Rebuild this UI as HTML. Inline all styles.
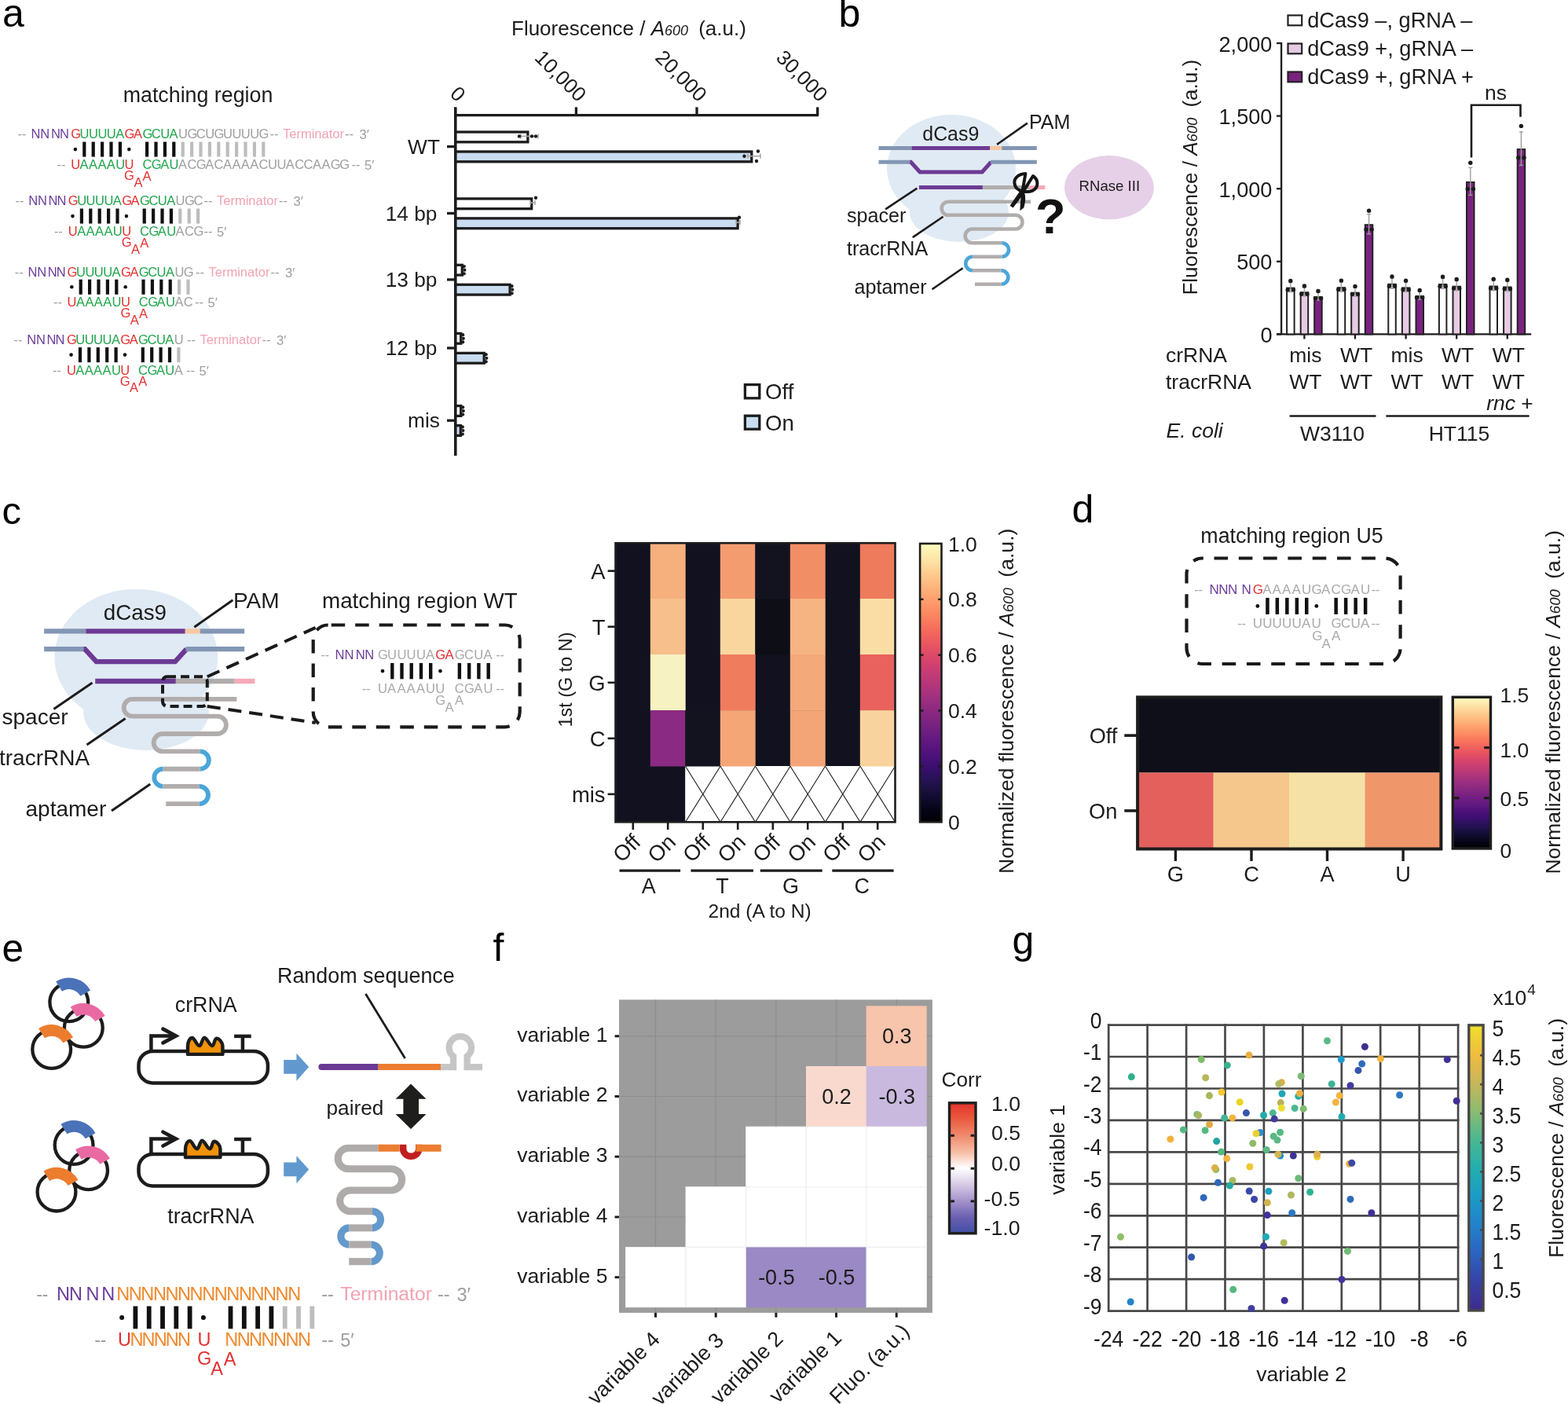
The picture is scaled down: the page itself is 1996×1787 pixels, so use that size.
<!DOCTYPE html>
<html><head><meta charset="utf-8"><title>Figure</title>
<style>html,body{margin:0;padding:0;background:#fff;} svg{display:block;}</style>
</head><body>
<svg width="1996" height="1787" viewBox="0 0 1996 1787" font-family="'Liberation Sans', Arial, Helvetica, sans-serif" fill="#1c1c1c">
<text x="3.0" y="34.0" font-size="50" fill="#000">a</text>
<text x="252.0" y="130.0" font-size="26.8" text-anchor="middle">matching region</text>
<text x="22.5 27.9" y="176.3" font-size="16.5" fill="#9e9e9e" font-family="'Liberation Sans', Arial, sans-serif">--</text>
<text x="39.6 51.3" y="176.3" font-size="16.5" fill="#6b3d9c" font-family="'Liberation Sans', Arial, sans-serif">NN</text>
<text x="64.9 75.9" y="176.3" font-size="16.5" fill="#6b3d9c" font-family="'Liberation Sans', Arial, sans-serif">NN</text>
<text x="90.2" y="176.3" font-size="16.5" fill="#e3302f" font-family="'Liberation Sans', Arial, sans-serif">G</text>
<text x="101.6 113.0 124.4 135.8 147.2" y="176.3" font-size="16.5" fill="#1fa54c" font-family="'Liberation Sans', Arial, sans-serif">UUUUA</text>
<text x="158.6 170.0" y="176.3" font-size="16.5" fill="#e3302f" font-family="'Liberation Sans', Arial, sans-serif">GA</text>
<text x="181.4 192.8 204.2 215.6" y="176.3" font-size="16.5" fill="#1fa54c" font-family="'Liberation Sans', Arial, sans-serif">GCUA</text>
<text x="227.0 238.4 249.8 261.2 272.6 284.0 295.4 306.8 318.2 329.6" y="176.3" font-size="16.5" fill="#9e9e9e" font-family="'Liberation Sans', Arial, sans-serif">UGCUGUUUUG</text>
<text x="343.5" y="176.3" font-size="16.5" fill="#9e9e9e" font-family="'Liberation Sans', Arial, sans-serif">--</text>
<text x="360.0" y="176.3" font-size="16.5" fill="#f2a3b3" font-family="'Liberation Sans', Arial, sans-serif">Terminator</text>
<text x="439.0" y="176.3" font-size="16.5" fill="#9e9e9e" font-family="'Liberation Sans', Arial, sans-serif">--</text>
<text x="457.5" y="177.3" font-size="16.5" fill="#9e9e9e" font-family="'Liberation Sans', Arial, sans-serif">3′</text>
<text x="72.6 78.0" y="215.1" font-size="16.5" fill="#9e9e9e" font-family="'Liberation Sans', Arial, sans-serif">--</text>
<text x="90.2" y="215.1" font-size="16.5" fill="#e3302f" font-family="'Liberation Sans', Arial, sans-serif">U</text>
<text x="101.6 113.0 124.4 135.8 147.2" y="215.1" font-size="16.5" fill="#1fa54c" font-family="'Liberation Sans', Arial, sans-serif">AAAAU</text>
<text x="158.6" y="215.1" font-size="16.5" fill="#e3302f" font-family="'Liberation Sans', Arial, sans-serif">U</text>
<text x="181.4 192.8 204.2 215.6" y="215.1" font-size="16.5" fill="#1fa54c" font-family="'Liberation Sans', Arial, sans-serif">CGAU</text>
<text x="227.0 238.4 249.8 261.2 272.6 284.0 295.4 306.8 318.2 329.6 341.0 352.4 363.8 375.2 386.6 398.0 409.4 420.8 432.2" y="215.1" font-size="16.5" fill="#9e9e9e" font-family="'Liberation Sans', Arial, sans-serif">ACGACAAAACUUACCAAGG</text>
<text x="447.5" y="215.1" font-size="16.5" fill="#9e9e9e" font-family="'Liberation Sans', Arial, sans-serif">--</text>
<text x="464.0" y="216.1" font-size="16.5" fill="#9e9e9e" font-family="'Liberation Sans', Arial, sans-serif">5′</text>
<text x="158.1" y="229.1" font-size="16.5" fill="#e3302f" font-family="'Liberation Sans', Arial, sans-serif">G</text>
<text x="170.4" y="237.7" font-size="16.5" fill="#e3302f" font-family="'Liberation Sans', Arial, sans-serif">A</text>
<text x="181.6" y="229.5" font-size="16.5" fill="#e3302f" font-family="'Liberation Sans', Arial, sans-serif">A</text>
<circle cx="95.9" cy="190.1" r="2.3" fill="#111"/>
<rect x="105.2" y="180.5" width="4.2" height="19.1" fill="#111"/>
<rect x="116.6" y="180.5" width="4.2" height="19.1" fill="#111"/>
<rect x="128.0" y="180.5" width="4.2" height="19.1" fill="#111"/>
<rect x="139.4" y="180.5" width="4.2" height="19.1" fill="#111"/>
<rect x="150.8" y="180.5" width="4.2" height="19.1" fill="#111"/>
<circle cx="164.3" cy="190.1" r="2.3" fill="#111"/>
<rect x="185.0" y="180.5" width="4.2" height="19.1" fill="#111"/>
<rect x="196.4" y="180.5" width="4.2" height="19.1" fill="#111"/>
<rect x="207.8" y="180.5" width="4.2" height="19.1" fill="#111"/>
<rect x="219.2" y="180.5" width="4.2" height="19.1" fill="#111"/>
<rect x="230.6" y="180.5" width="4.2" height="19.1" fill="#bdbdbd"/>
<rect x="242.0" y="180.5" width="4.2" height="19.1" fill="#bdbdbd"/>
<rect x="253.4" y="180.5" width="4.2" height="19.1" fill="#bdbdbd"/>
<rect x="264.8" y="180.5" width="4.2" height="19.1" fill="#bdbdbd"/>
<rect x="276.2" y="180.5" width="4.2" height="19.1" fill="#bdbdbd"/>
<rect x="287.6" y="180.5" width="4.2" height="19.1" fill="#bdbdbd"/>
<rect x="299.0" y="180.5" width="4.2" height="19.1" fill="#bdbdbd"/>
<rect x="310.4" y="180.5" width="4.2" height="19.1" fill="#bdbdbd"/>
<rect x="321.8" y="180.5" width="4.2" height="19.1" fill="#bdbdbd"/>
<rect x="333.2" y="180.5" width="4.2" height="19.1" fill="#bdbdbd"/>
<text x="19.5 24.9" y="261.3" font-size="16.5" fill="#9e9e9e" font-family="'Liberation Sans', Arial, sans-serif">--</text>
<text x="36.3 48.0" y="261.3" font-size="16.5" fill="#6b3d9c" font-family="'Liberation Sans', Arial, sans-serif">NN</text>
<text x="61.6 72.6" y="261.3" font-size="16.5" fill="#6b3d9c" font-family="'Liberation Sans', Arial, sans-serif">NN</text>
<text x="86.8" y="261.3" font-size="16.5" fill="#e3302f" font-family="'Liberation Sans', Arial, sans-serif">G</text>
<text x="98.2 109.6 121.0 132.4 143.8" y="261.3" font-size="16.5" fill="#1fa54c" font-family="'Liberation Sans', Arial, sans-serif">UUUUA</text>
<text x="155.2 166.6" y="261.3" font-size="16.5" fill="#e3302f" font-family="'Liberation Sans', Arial, sans-serif">GA</text>
<text x="178.0 189.4 200.8 212.2" y="261.3" font-size="16.5" fill="#1fa54c" font-family="'Liberation Sans', Arial, sans-serif">GCUA</text>
<text x="223.6 235.0 246.4" y="261.3" font-size="16.5" fill="#9e9e9e" font-family="'Liberation Sans', Arial, sans-serif">UGC</text>
<text x="259.5" y="261.3" font-size="16.5" fill="#9e9e9e" font-family="'Liberation Sans', Arial, sans-serif">--</text>
<text x="276.0" y="261.3" font-size="16.5" fill="#f2a3b3" font-family="'Liberation Sans', Arial, sans-serif">Terminator</text>
<text x="355.0" y="261.3" font-size="16.5" fill="#9e9e9e" font-family="'Liberation Sans', Arial, sans-serif">--</text>
<text x="373.5" y="262.3" font-size="16.5" fill="#9e9e9e" font-family="'Liberation Sans', Arial, sans-serif">3′</text>
<text x="68.9 74.3" y="300.1" font-size="16.5" fill="#9e9e9e" font-family="'Liberation Sans', Arial, sans-serif">--</text>
<text x="86.8" y="300.1" font-size="16.5" fill="#e3302f" font-family="'Liberation Sans', Arial, sans-serif">U</text>
<text x="98.2 109.6 121.0 132.4 143.8" y="300.1" font-size="16.5" fill="#1fa54c" font-family="'Liberation Sans', Arial, sans-serif">AAAAU</text>
<text x="155.2" y="300.1" font-size="16.5" fill="#e3302f" font-family="'Liberation Sans', Arial, sans-serif">U</text>
<text x="178.0 189.4 200.8 212.2" y="300.1" font-size="16.5" fill="#1fa54c" font-family="'Liberation Sans', Arial, sans-serif">CGAU</text>
<text x="223.6 235.0 246.4" y="300.1" font-size="16.5" fill="#9e9e9e" font-family="'Liberation Sans', Arial, sans-serif">ACG</text>
<text x="259.5" y="300.1" font-size="16.5" fill="#9e9e9e" font-family="'Liberation Sans', Arial, sans-serif">--</text>
<text x="276.0" y="301.1" font-size="16.5" fill="#9e9e9e" font-family="'Liberation Sans', Arial, sans-serif">5′</text>
<text x="154.7" y="314.1" font-size="16.5" fill="#e3302f" font-family="'Liberation Sans', Arial, sans-serif">G</text>
<text x="167.0" y="322.7" font-size="16.5" fill="#e3302f" font-family="'Liberation Sans', Arial, sans-serif">A</text>
<text x="178.2" y="314.5" font-size="16.5" fill="#e3302f" font-family="'Liberation Sans', Arial, sans-serif">A</text>
<circle cx="92.5" cy="275.1" r="2.3" fill="#111"/>
<rect x="101.8" y="265.5" width="4.2" height="19.1" fill="#111"/>
<rect x="113.2" y="265.5" width="4.2" height="19.1" fill="#111"/>
<rect x="124.6" y="265.5" width="4.2" height="19.1" fill="#111"/>
<rect x="136.0" y="265.5" width="4.2" height="19.1" fill="#111"/>
<rect x="147.4" y="265.5" width="4.2" height="19.1" fill="#111"/>
<circle cx="160.9" cy="275.1" r="2.3" fill="#111"/>
<rect x="181.6" y="265.5" width="4.2" height="19.1" fill="#111"/>
<rect x="193.0" y="265.5" width="4.2" height="19.1" fill="#111"/>
<rect x="204.4" y="265.5" width="4.2" height="19.1" fill="#111"/>
<rect x="215.8" y="265.5" width="4.2" height="19.1" fill="#111"/>
<rect x="227.2" y="265.5" width="4.2" height="19.1" fill="#bdbdbd"/>
<rect x="238.6" y="265.5" width="4.2" height="19.1" fill="#bdbdbd"/>
<rect x="250.0" y="265.5" width="4.2" height="19.1" fill="#bdbdbd"/>
<text x="18.8 24.2" y="351.5" font-size="16.5" fill="#9e9e9e" font-family="'Liberation Sans', Arial, sans-serif">--</text>
<text x="35.5 47.2" y="351.5" font-size="16.5" fill="#6b3d9c" font-family="'Liberation Sans', Arial, sans-serif">NN</text>
<text x="60.8 71.8" y="351.5" font-size="16.5" fill="#6b3d9c" font-family="'Liberation Sans', Arial, sans-serif">NN</text>
<text x="85.6" y="351.5" font-size="16.5" fill="#e3302f" font-family="'Liberation Sans', Arial, sans-serif">G</text>
<text x="97.0 108.4 119.8 131.2 142.6" y="351.5" font-size="16.5" fill="#1fa54c" font-family="'Liberation Sans', Arial, sans-serif">UUUUA</text>
<text x="154.0 165.4" y="351.5" font-size="16.5" fill="#e3302f" font-family="'Liberation Sans', Arial, sans-serif">GA</text>
<text x="176.8 188.2 199.6 211.0" y="351.5" font-size="16.5" fill="#1fa54c" font-family="'Liberation Sans', Arial, sans-serif">GCUA</text>
<text x="222.4 233.8" y="351.5" font-size="16.5" fill="#9e9e9e" font-family="'Liberation Sans', Arial, sans-serif">UG</text>
<text x="249.0" y="351.5" font-size="16.5" fill="#9e9e9e" font-family="'Liberation Sans', Arial, sans-serif">--</text>
<text x="265.5" y="351.5" font-size="16.5" fill="#f2a3b3" font-family="'Liberation Sans', Arial, sans-serif">Terminator</text>
<text x="344.5" y="351.5" font-size="16.5" fill="#9e9e9e" font-family="'Liberation Sans', Arial, sans-serif">--</text>
<text x="363.0" y="352.5" font-size="16.5" fill="#9e9e9e" font-family="'Liberation Sans', Arial, sans-serif">3′</text>
<text x="68.0 73.4" y="390.3" font-size="16.5" fill="#9e9e9e" font-family="'Liberation Sans', Arial, sans-serif">--</text>
<text x="85.6" y="390.3" font-size="16.5" fill="#e3302f" font-family="'Liberation Sans', Arial, sans-serif">U</text>
<text x="97.0 108.4 119.8 131.2 142.6" y="390.3" font-size="16.5" fill="#1fa54c" font-family="'Liberation Sans', Arial, sans-serif">AAAAU</text>
<text x="154.0" y="390.3" font-size="16.5" fill="#e3302f" font-family="'Liberation Sans', Arial, sans-serif">U</text>
<text x="176.8 188.2 199.6 211.0" y="390.3" font-size="16.5" fill="#1fa54c" font-family="'Liberation Sans', Arial, sans-serif">CGAU</text>
<text x="222.4 233.8" y="390.3" font-size="16.5" fill="#9e9e9e" font-family="'Liberation Sans', Arial, sans-serif">AC</text>
<text x="248.0" y="390.3" font-size="16.5" fill="#9e9e9e" font-family="'Liberation Sans', Arial, sans-serif">--</text>
<text x="264.5" y="391.3" font-size="16.5" fill="#9e9e9e" font-family="'Liberation Sans', Arial, sans-serif">5′</text>
<text x="153.5" y="404.3" font-size="16.5" fill="#e3302f" font-family="'Liberation Sans', Arial, sans-serif">G</text>
<text x="165.8" y="412.9" font-size="16.5" fill="#e3302f" font-family="'Liberation Sans', Arial, sans-serif">A</text>
<text x="177.0" y="404.7" font-size="16.5" fill="#e3302f" font-family="'Liberation Sans', Arial, sans-serif">A</text>
<circle cx="91.3" cy="365.2" r="2.3" fill="#111"/>
<rect x="100.6" y="355.7" width="4.2" height="19.1" fill="#111"/>
<rect x="112.0" y="355.7" width="4.2" height="19.1" fill="#111"/>
<rect x="123.4" y="355.7" width="4.2" height="19.1" fill="#111"/>
<rect x="134.8" y="355.7" width="4.2" height="19.1" fill="#111"/>
<rect x="146.2" y="355.7" width="4.2" height="19.1" fill="#111"/>
<circle cx="159.7" cy="365.2" r="2.3" fill="#111"/>
<rect x="180.4" y="355.7" width="4.2" height="19.1" fill="#111"/>
<rect x="191.8" y="355.7" width="4.2" height="19.1" fill="#111"/>
<rect x="203.2" y="355.7" width="4.2" height="19.1" fill="#111"/>
<rect x="214.6" y="355.7" width="4.2" height="19.1" fill="#111"/>
<rect x="226.0" y="355.7" width="4.2" height="19.1" fill="#bdbdbd"/>
<rect x="237.4" y="355.7" width="4.2" height="19.1" fill="#bdbdbd"/>
<text x="17.5 22.9" y="437.9" font-size="16.5" fill="#9e9e9e" font-family="'Liberation Sans', Arial, sans-serif">--</text>
<text x="34.3 46.0" y="437.9" font-size="16.5" fill="#6b3d9c" font-family="'Liberation Sans', Arial, sans-serif">NN</text>
<text x="59.6 70.6" y="437.9" font-size="16.5" fill="#6b3d9c" font-family="'Liberation Sans', Arial, sans-serif">NN</text>
<text x="84.9" y="437.9" font-size="16.5" fill="#e3302f" font-family="'Liberation Sans', Arial, sans-serif">G</text>
<text x="96.3 107.7 119.1 130.5 141.9" y="437.9" font-size="16.5" fill="#1fa54c" font-family="'Liberation Sans', Arial, sans-serif">UUUUA</text>
<text x="153.3 164.7" y="437.9" font-size="16.5" fill="#e3302f" font-family="'Liberation Sans', Arial, sans-serif">GA</text>
<text x="176.1 187.5 198.9 210.3" y="437.9" font-size="16.5" fill="#1fa54c" font-family="'Liberation Sans', Arial, sans-serif">GCUA</text>
<text x="221.7" y="437.9" font-size="16.5" fill="#9e9e9e" font-family="'Liberation Sans', Arial, sans-serif">U</text>
<text x="238.0" y="437.9" font-size="16.5" fill="#9e9e9e" font-family="'Liberation Sans', Arial, sans-serif">--</text>
<text x="254.5" y="437.9" font-size="16.5" fill="#f2a3b3" font-family="'Liberation Sans', Arial, sans-serif">Terminator</text>
<text x="333.5" y="437.9" font-size="16.5" fill="#9e9e9e" font-family="'Liberation Sans', Arial, sans-serif">--</text>
<text x="352.0" y="438.9" font-size="16.5" fill="#9e9e9e" font-family="'Liberation Sans', Arial, sans-serif">3′</text>
<text x="67.0 72.4" y="476.7" font-size="16.5" fill="#9e9e9e" font-family="'Liberation Sans', Arial, sans-serif">--</text>
<text x="84.9" y="476.7" font-size="16.5" fill="#e3302f" font-family="'Liberation Sans', Arial, sans-serif">U</text>
<text x="96.3 107.7 119.1 130.5 141.9" y="476.7" font-size="16.5" fill="#1fa54c" font-family="'Liberation Sans', Arial, sans-serif">AAAAU</text>
<text x="153.3" y="476.7" font-size="16.5" fill="#e3302f" font-family="'Liberation Sans', Arial, sans-serif">U</text>
<text x="176.1 187.5 198.9 210.3" y="476.7" font-size="16.5" fill="#1fa54c" font-family="'Liberation Sans', Arial, sans-serif">CGAU</text>
<text x="221.7" y="476.7" font-size="16.5" fill="#9e9e9e" font-family="'Liberation Sans', Arial, sans-serif">A</text>
<text x="237.0" y="476.7" font-size="16.5" fill="#9e9e9e" font-family="'Liberation Sans', Arial, sans-serif">--</text>
<text x="253.5" y="477.7" font-size="16.5" fill="#9e9e9e" font-family="'Liberation Sans', Arial, sans-serif">5′</text>
<text x="152.8" y="490.7" font-size="16.5" fill="#e3302f" font-family="'Liberation Sans', Arial, sans-serif">G</text>
<text x="165.1" y="499.3" font-size="16.5" fill="#e3302f" font-family="'Liberation Sans', Arial, sans-serif">A</text>
<text x="176.3" y="491.1" font-size="16.5" fill="#e3302f" font-family="'Liberation Sans', Arial, sans-serif">A</text>
<circle cx="90.6" cy="451.6" r="2.3" fill="#111"/>
<rect x="99.9" y="442.1" width="4.2" height="19.1" fill="#111"/>
<rect x="111.3" y="442.1" width="4.2" height="19.1" fill="#111"/>
<rect x="122.7" y="442.1" width="4.2" height="19.1" fill="#111"/>
<rect x="134.1" y="442.1" width="4.2" height="19.1" fill="#111"/>
<rect x="145.5" y="442.1" width="4.2" height="19.1" fill="#111"/>
<circle cx="159.0" cy="451.6" r="2.3" fill="#111"/>
<rect x="179.7" y="442.1" width="4.2" height="19.1" fill="#111"/>
<rect x="191.1" y="442.1" width="4.2" height="19.1" fill="#111"/>
<rect x="202.5" y="442.1" width="4.2" height="19.1" fill="#111"/>
<rect x="213.9" y="442.1" width="4.2" height="19.1" fill="#111"/>
<rect x="225.3" y="442.1" width="4.2" height="19.1" fill="#bdbdbd"/>
<line x1="579.7" y1="136.4" x2="579.7" y2="580.0" stroke="#1c1c1c" stroke-width="3.3" stroke-linecap="butt"/>
<line x1="578.1" y1="146.6" x2="1042.1" y2="146.6" stroke="#1c1c1c" stroke-width="3.3" stroke-linecap="butt"/>
<line x1="733.4" y1="136.4" x2="733.4" y2="146.6" stroke="#1c1c1c" stroke-width="3.3" stroke-linecap="butt"/>
<line x1="887.0" y1="136.4" x2="887.0" y2="146.6" stroke="#1c1c1c" stroke-width="3.3" stroke-linecap="butt"/>
<line x1="1040.7" y1="136.4" x2="1040.7" y2="146.6" stroke="#1c1c1c" stroke-width="3.3" stroke-linecap="butt"/>
<text x="581.7" y="131.0" font-size="26" text-anchor="end" transform="rotate(45 581.7 131.0)">0</text>
<text x="735.4" y="131.0" font-size="26" text-anchor="end" transform="rotate(45 735.4 131.0)">10,000</text>
<text x="889.0" y="131.0" font-size="26" text-anchor="end" transform="rotate(45 889.0 131.0)">20,000</text>
<text x="1042.7" y="131.0" font-size="26" text-anchor="end" transform="rotate(45 1042.7 131.0)">30,000</text>
<text x="651.0" y="44.5" font-size="26">Fluorescence / <tspan font-style="italic">A</tspan><tspan font-style="italic" font-size="18">600</tspan> (a.u.)</text>
<line x1="569.0" y1="186.6" x2="579.7" y2="186.6" stroke="#1c1c1c" stroke-width="3.3" stroke-linecap="butt"/>
<text x="560.0" y="195.8" font-size="26.3" text-anchor="end">WT</text>
<rect x="579.7" y="168.0" width="92.2" height="12.8" fill="#ffffff" stroke="#1c1c1c" stroke-width="3.3"/>
<rect x="579.7" y="193.0" width="377.1" height="12.8" fill="#c9dcf1" stroke="#1c1c1c" stroke-width="3.3"/>
<line x1="569.0" y1="271.5" x2="579.7" y2="271.5" stroke="#1c1c1c" stroke-width="3.3" stroke-linecap="butt"/>
<text x="556.5" y="280.7" font-size="26.3" text-anchor="end">14 bp</text>
<rect x="579.7" y="252.9" width="97.0" height="12.8" fill="#ffffff" stroke="#1c1c1c" stroke-width="3.3"/>
<rect x="579.7" y="277.9" width="359.4" height="12.8" fill="#c9dcf1" stroke="#1c1c1c" stroke-width="3.3"/>
<line x1="569.0" y1="355.9" x2="579.7" y2="355.9" stroke="#1c1c1c" stroke-width="3.3" stroke-linecap="butt"/>
<text x="556.5" y="365.1" font-size="26.3" text-anchor="end">13 bp</text>
<rect x="579.7" y="337.3" width="8.6" height="12.8" fill="#ffffff" stroke="#1c1c1c" stroke-width="3.3"/>
<rect x="579.7" y="362.3" width="69.4" height="12.8" fill="#c9dcf1" stroke="#1c1c1c" stroke-width="3.3"/>
<line x1="569.0" y1="443.0" x2="579.7" y2="443.0" stroke="#1c1c1c" stroke-width="3.3" stroke-linecap="butt"/>
<text x="556.5" y="452.2" font-size="26.3" text-anchor="end">12 bp</text>
<rect x="579.7" y="424.4" width="7.0" height="12.8" fill="#ffffff" stroke="#1c1c1c" stroke-width="3.3"/>
<rect x="579.7" y="449.4" width="36.5" height="12.8" fill="#c9dcf1" stroke="#1c1c1c" stroke-width="3.3"/>
<line x1="569.0" y1="535.2" x2="579.7" y2="535.2" stroke="#1c1c1c" stroke-width="3.3" stroke-linecap="butt"/>
<text x="560.0" y="544.4" font-size="26.3" text-anchor="end">mis</text>
<rect x="579.7" y="516.6" width="7.0" height="12.8" fill="#ffffff" stroke="#1c1c1c" stroke-width="3.3"/>
<rect x="579.7" y="541.6" width="6.6" height="12.8" fill="#c9dcf1" stroke="#1c1c1c" stroke-width="3.3"/>
<line x1="579.7" y1="136.4" x2="579.7" y2="580.0" stroke="#1c1c1c" stroke-width="3.3" stroke-linecap="butt"/>
<line x1="663.0" y1="173.4" x2="685.0" y2="173.4" stroke="#a8a8a8" stroke-width="1.6" stroke-linecap="butt"/>
<line x1="663.0" y1="170.4" x2="663.0" y2="176.4" stroke="#a8a8a8" stroke-width="1.6" stroke-linecap="butt"/>
<line x1="685.0" y1="170.4" x2="685.0" y2="176.4" stroke="#a8a8a8" stroke-width="1.6" stroke-linecap="butt"/>
<circle cx="661.0" cy="173.4" r="2.2" fill="#1c1c1c"/>
<circle cx="677.0" cy="173.4" r="2.2" fill="#1c1c1c"/>
<circle cx="682.0" cy="173.4" r="2.2" fill="#1c1c1c"/>
<line x1="952.0" y1="198.7" x2="968.0" y2="198.7" stroke="#a8a8a8" stroke-width="1.6" stroke-linecap="butt"/>
<line x1="952.0" y1="195.7" x2="952.0" y2="201.7" stroke="#a8a8a8" stroke-width="1.6" stroke-linecap="butt"/>
<line x1="968.0" y1="195.7" x2="968.0" y2="201.7" stroke="#a8a8a8" stroke-width="1.6" stroke-linecap="butt"/>
<circle cx="947.5" cy="198.7" r="2.2" fill="#1c1c1c"/>
<circle cx="965.0" cy="192.5" r="2.2" fill="#1c1c1c"/>
<circle cx="963.0" cy="205.0" r="2.2" fill="#1c1c1c"/>
<line x1="675.0" y1="258.0" x2="681.0" y2="258.0" stroke="#a8a8a8" stroke-width="1.6" stroke-linecap="butt"/>
<line x1="675.0" y1="255.0" x2="675.0" y2="261.0" stroke="#a8a8a8" stroke-width="1.6" stroke-linecap="butt"/>
<line x1="681.0" y1="255.0" x2="681.0" y2="261.0" stroke="#a8a8a8" stroke-width="1.6" stroke-linecap="butt"/>
<circle cx="682.0" cy="251.7" r="2.2" fill="#1c1c1c"/>
<line x1="937.0" y1="283.0" x2="942.0" y2="283.0" stroke="#a8a8a8" stroke-width="1.6" stroke-linecap="butt"/>
<line x1="937.0" y1="280.0" x2="937.0" y2="286.0" stroke="#a8a8a8" stroke-width="1.6" stroke-linecap="butt"/>
<line x1="942.0" y1="280.0" x2="942.0" y2="286.0" stroke="#a8a8a8" stroke-width="1.6" stroke-linecap="butt"/>
<circle cx="941.0" cy="276.8" r="2.2" fill="#1c1c1c"/>
<line x1="589.0" y1="343.7" x2="593.0" y2="343.7" stroke="#a8a8a8" stroke-width="1.6" stroke-linecap="butt"/>
<circle cx="590.8" cy="339.1" r="2.1" fill="#1c1c1c"/>
<circle cx="591.4" cy="343.7" r="2.1" fill="#1c1c1c"/>
<circle cx="590.8" cy="348.3" r="2.1" fill="#1c1c1c"/>
<line x1="649.8" y1="368.7" x2="653.8" y2="368.7" stroke="#a8a8a8" stroke-width="1.6" stroke-linecap="butt"/>
<circle cx="651.6" cy="364.1" r="2.1" fill="#1c1c1c"/>
<circle cx="652.2" cy="368.7" r="2.1" fill="#1c1c1c"/>
<circle cx="651.6" cy="373.3" r="2.1" fill="#1c1c1c"/>
<line x1="587.4" y1="430.8" x2="591.4" y2="430.8" stroke="#a8a8a8" stroke-width="1.6" stroke-linecap="butt"/>
<circle cx="589.2" cy="426.2" r="2.1" fill="#1c1c1c"/>
<circle cx="589.8" cy="430.8" r="2.1" fill="#1c1c1c"/>
<circle cx="589.2" cy="435.4" r="2.1" fill="#1c1c1c"/>
<line x1="616.9" y1="455.8" x2="620.9" y2="455.8" stroke="#a8a8a8" stroke-width="1.6" stroke-linecap="butt"/>
<circle cx="618.7" cy="451.2" r="2.1" fill="#1c1c1c"/>
<circle cx="619.3" cy="455.8" r="2.1" fill="#1c1c1c"/>
<circle cx="618.7" cy="460.4" r="2.1" fill="#1c1c1c"/>
<line x1="587.4" y1="523.0" x2="591.4" y2="523.0" stroke="#a8a8a8" stroke-width="1.6" stroke-linecap="butt"/>
<circle cx="589.2" cy="518.4" r="2.1" fill="#1c1c1c"/>
<circle cx="589.8" cy="523.0" r="2.1" fill="#1c1c1c"/>
<circle cx="589.2" cy="527.6" r="2.1" fill="#1c1c1c"/>
<line x1="587.0" y1="548.0" x2="591.0" y2="548.0" stroke="#a8a8a8" stroke-width="1.6" stroke-linecap="butt"/>
<circle cx="588.8" cy="543.4" r="2.1" fill="#1c1c1c"/>
<circle cx="589.4" cy="548.0" r="2.1" fill="#1c1c1c"/>
<circle cx="588.8" cy="552.6" r="2.1" fill="#1c1c1c"/>
<text x="974.0" y="508.4" font-size="27.6">Off</text>
<text x="974.0" y="547.5" font-size="27.6">On</text>
<rect x="948.4" y="489.6" width="18.4" height="17.2" fill="#fff" stroke="#1c1c1c" stroke-width="3.3"/>
<rect x="948.4" y="529.2" width="18.4" height="17.0" fill="#c9dcf1" stroke="#1c1c1c" stroke-width="3.3"/>
<text x="1067.5" y="34.0" font-size="50" fill="#000">b</text>
<ellipse cx="1211" cy="214.5" rx="82" ry="68.5" fill="#e0eaf4"/>
<ellipse cx="1221" cy="270" rx="63" ry="38" fill="#e0eaf4"/>
<line x1="1118.5" y1="188.4" x2="1160.5" y2="188.4" stroke="#8396b3" stroke-width="5.0" stroke-linecap="butt"/>
<line x1="1160.5" y1="188.4" x2="1260.3" y2="188.4" stroke="#6c3a94" stroke-width="5.0" stroke-linecap="butt"/>
<line x1="1260.3" y1="188.4" x2="1275.3" y2="188.4" stroke="#f8c7a3" stroke-width="5.0" stroke-linecap="butt"/>
<line x1="1275.3" y1="188.4" x2="1319.8" y2="188.4" stroke="#8396b3" stroke-width="5.0" stroke-linecap="butt"/>
<line x1="1118.5" y1="206.3" x2="1159.5" y2="206.3" stroke="#8396b3" stroke-width="5.0" stroke-linecap="butt"/>
<path d="M1158.5 206.3 L1159.5 206.3 L1171 218.9 L1250.2 218.9 L1261.6 206.3" fill="none" stroke="#6c3a94" stroke-width="5.0" stroke-linejoin="miter"/>
<line x1="1261.0" y1="206.3" x2="1319.8" y2="206.3" stroke="#8396b3" stroke-width="5.0" stroke-linecap="butt"/>
<line x1="1169.9" y1="238.6" x2="1250.9" y2="238.6" stroke="#6c3a94" stroke-width="5.0" stroke-linecap="butt"/>
<line x1="1250.9" y1="238.6" x2="1310" y2="238.6" stroke="#b1adac" stroke-width="5.0" stroke-linecap="butt"/>
<line x1="1310" y1="238.6" x2="1330.3" y2="238.6" stroke="#f4a9b7" stroke-width="5.0" stroke-linecap="butt"/>
<path d="M1312.1 256.7 L1207.2 256.7 A8.55 8.55 0 0 0 1207.2 273.8 L1292.6 273.8 A8.85 8.85 0 0 1 1292.6 291.5 L1237.5 291.5 A8.85 8.85 0 0 0 1237.5 309.2 L1275.3 309.2" fill="none" stroke="#b1adac" stroke-width="4.6"/>
<path d="M1275.3 309.2 A8.8 8.8 0 0 1 1275.3 326.8" fill="none" stroke="#4aa6d8" stroke-width="4.6"/>
<line x1="1275.3" y1="326.8" x2="1237.9" y2="326.8" stroke="#b1adac" stroke-width="4.6"/>
<path d="M1237.9 326.8 A8.7 8.7 0 0 0 1237.9 344.2" fill="none" stroke="#4aa6d8" stroke-width="4.6"/>
<line x1="1237.9" y1="344.2" x2="1274.6" y2="344.2" stroke="#b1adac" stroke-width="4.6"/>
<path d="M1274.6 344.2 A8.8 8.8 0 0 1 1274.6 361.8" fill="none" stroke="#4aa6d8" stroke-width="4.6"/>
<line x1="1274.6" y1="361.8" x2="1241" y2="361.8" stroke="#b1adac" stroke-width="4.6"/>
<line x1="1269.1" y1="183.9" x2="1307.9" y2="156.6" stroke="#1c1c1c" stroke-width="2.6" stroke-linecap="butt"/>
<line x1="1167.4" y1="239.6" x2="1127.1" y2="266.3" stroke="#1c1c1c" stroke-width="2.6" stroke-linecap="butt"/>
<line x1="1200.6" y1="275.7" x2="1161.8" y2="302.1" stroke="#1c1c1c" stroke-width="2.6" stroke-linecap="butt"/>
<line x1="1225.6" y1="341.3" x2="1186.5" y2="368.2" stroke="#1c1c1c" stroke-width="2.6" stroke-linecap="butt"/>
<text x="1174.3" y="178.8" font-size="24.9">dCas9</text>
<text x="1310.0" y="163.8" font-size="25.1">PAM</text>
<text x="1078.0" y="283.1" font-size="25.1">spacer</text>
<text x="1078.0" y="324.5" font-size="25.1">tracrRNA</text>
<text x="1087.5" y="374.2" font-size="25.1">aptamer</text>
<g fill="none" stroke="#151515" stroke-width="4.0" stroke-linejoin="round"><path d="M1305.4 221.0 C1296.5 221.5 1290.8 226.5 1291.4 233.0 C1292.0 239.0 1296.6 242.6 1301.6 243.4 Z"/><path d="M1315.0 224.0 C1322.0 228.5 1322.6 238.5 1314.5 242.6 C1310.5 244.4 1305.6 244.2 1302.6 243.6 Z"/></g>
<path d="M1299.4 241.6 L1304.0 245.6 L1289.6 264.6 L1285.6 261.8 Z" fill="#151515"/>
<path d="M1299.6 244.0 L1304.2 245.4 C1306.0 251.0 1305.0 259.0 1303.2 264.5 L1298.4 268.2 C1298.6 261.0 1299.8 252.0 1299.6 244.0 Z" fill="#151515"/>
<text x="1318.0" y="296.5" font-size="63" fill="#111" font-weight="bold">?</text>
<ellipse cx="1411.9" cy="238.7" rx="56.9" ry="40.6" fill="#e6d0e7"/>
<text x="1373.6" y="242.8" font-size="18.6">RNase III</text>
<line x1="1631.1" y1="54.0" x2="1631.1" y2="425.4" stroke="#1c1c1c" stroke-width="2.3" stroke-linecap="butt"/>
<line x1="1625.0" y1="425.4" x2="1949.2" y2="425.4" stroke="#1c1c1c" stroke-width="2.3" stroke-linecap="butt"/>
<line x1="1625.0" y1="425.4" x2="1631.1" y2="425.4" stroke="#1c1c1c" stroke-width="2.3" stroke-linecap="butt"/>
<text x="1619.5" y="436.0" font-size="27.2" text-anchor="end">0</text>
<line x1="1625.0" y1="332.8" x2="1631.1" y2="332.8" stroke="#1c1c1c" stroke-width="2.3" stroke-linecap="butt"/>
<text x="1619.5" y="343.4" font-size="27.2" text-anchor="end">500</text>
<line x1="1625.0" y1="240.2" x2="1631.1" y2="240.2" stroke="#1c1c1c" stroke-width="2.3" stroke-linecap="butt"/>
<text x="1619.5" y="250.8" font-size="27.2" text-anchor="end">1,000</text>
<line x1="1625.0" y1="147.6" x2="1631.1" y2="147.6" stroke="#1c1c1c" stroke-width="2.3" stroke-linecap="butt"/>
<text x="1619.5" y="158.2" font-size="27.2" text-anchor="end">1,500</text>
<line x1="1625.0" y1="55.0" x2="1631.1" y2="55.0" stroke="#1c1c1c" stroke-width="2.3" stroke-linecap="butt"/>
<text x="1619.5" y="65.6" font-size="27.2" text-anchor="end">2,000</text>
<text x="1523.6" y="75.9" font-size="26" text-anchor="end" transform="rotate(-90 1523.6 75.9)">Fluorescence / <tspan font-style="italic">A</tspan><tspan font-style="italic" font-size="18.5">600</tspan> (a.u.)</text>
<line x1="1660.4" y1="425.4" x2="1660.4" y2="431.5" stroke="#1c1c1c" stroke-width="2.3" stroke-linecap="butt"/>
<rect x="1638.1" y="366.6" width="9.5" height="58.8" fill="#ffffff" stroke="#222" stroke-width="2.0"/>
<rect x="1655.7" y="372.3" width="9.5" height="53.1" fill="#e6cbe3" stroke="#222" stroke-width="2.0"/>
<rect x="1673.2" y="378.1" width="9.5" height="47.3" fill="#7a2280" stroke="#222" stroke-width="2.0"/>
<line x1="1725.0" y1="425.4" x2="1725.0" y2="431.5" stroke="#1c1c1c" stroke-width="2.3" stroke-linecap="butt"/>
<rect x="1702.7" y="366.2" width="9.5" height="59.2" fill="#ffffff" stroke="#222" stroke-width="2.0"/>
<rect x="1720.2" y="372.7" width="9.5" height="52.7" fill="#e6cbe3" stroke="#222" stroke-width="2.0"/>
<rect x="1737.8" y="286.2" width="9.5" height="139.2" fill="#7a2280" stroke="#222" stroke-width="2.0"/>
<line x1="1789.6" y1="425.4" x2="1789.6" y2="431.5" stroke="#1c1c1c" stroke-width="2.3" stroke-linecap="butt"/>
<rect x="1767.3" y="361.8" width="9.5" height="63.6" fill="#ffffff" stroke="#222" stroke-width="2.0"/>
<rect x="1784.9" y="366.4" width="9.5" height="59.0" fill="#e6cbe3" stroke="#222" stroke-width="2.0"/>
<rect x="1802.5" y="377.1" width="9.5" height="48.3" fill="#7a2280" stroke="#222" stroke-width="2.0"/>
<line x1="1854.2" y1="425.4" x2="1854.2" y2="431.5" stroke="#1c1c1c" stroke-width="2.3" stroke-linecap="butt"/>
<rect x="1831.9" y="362.0" width="9.5" height="63.4" fill="#ffffff" stroke="#222" stroke-width="2.0"/>
<rect x="1849.5" y="364.7" width="9.5" height="60.7" fill="#e6cbe3" stroke="#222" stroke-width="2.0"/>
<rect x="1867.0" y="231.9" width="9.5" height="193.5" fill="#7a2280" stroke="#222" stroke-width="2.0"/>
<line x1="1918.8" y1="425.4" x2="1918.8" y2="431.5" stroke="#1c1c1c" stroke-width="2.3" stroke-linecap="butt"/>
<rect x="1896.5" y="364.5" width="9.5" height="60.9" fill="#ffffff" stroke="#222" stroke-width="2.0"/>
<rect x="1914.1" y="365.5" width="9.5" height="59.9" fill="#e6cbe3" stroke="#222" stroke-width="2.0"/>
<rect x="1931.7" y="190.1" width="9.5" height="235.3" fill="#7a2280" stroke="#222" stroke-width="2.0"/>
<line x1="1642.8" y1="359.6" x2="1642.8" y2="371.6" stroke="#9e9e9e" stroke-width="1.4" stroke-linecap="butt"/>
<line x1="1640.3" y1="359.6" x2="1645.3" y2="359.6" stroke="#9e9e9e" stroke-width="1.4" stroke-linecap="butt"/>
<line x1="1640.3" y1="371.6" x2="1645.3" y2="371.6" stroke="#9e9e9e" stroke-width="1.4" stroke-linecap="butt"/>
<circle cx="1642.8" cy="357.5" r="2.7" fill="#1c1c1c"/>
<circle cx="1639.2" cy="368.9" r="2.7" fill="#1c1c1c"/>
<circle cx="1646.4" cy="368.9" r="2.7" fill="#1c1c1c"/>
<line x1="1660.4" y1="365.9" x2="1660.4" y2="376.7" stroke="#9e9e9e" stroke-width="1.4" stroke-linecap="butt"/>
<line x1="1657.9" y1="365.9" x2="1662.9" y2="365.9" stroke="#9e9e9e" stroke-width="1.4" stroke-linecap="butt"/>
<line x1="1657.9" y1="376.7" x2="1662.9" y2="376.7" stroke="#9e9e9e" stroke-width="1.4" stroke-linecap="butt"/>
<circle cx="1660.4" cy="364.0" r="2.7" fill="#1c1c1c"/>
<circle cx="1656.8" cy="374.3" r="2.7" fill="#1c1c1c"/>
<circle cx="1664.0" cy="374.3" r="2.7" fill="#1c1c1c"/>
<line x1="1678.0" y1="372.2" x2="1678.0" y2="381.9" stroke="#9e9e9e" stroke-width="1.4" stroke-linecap="butt"/>
<line x1="1675.5" y1="372.2" x2="1680.5" y2="372.2" stroke="#9e9e9e" stroke-width="1.4" stroke-linecap="butt"/>
<line x1="1675.5" y1="381.9" x2="1680.5" y2="381.9" stroke="#9e9e9e" stroke-width="1.4" stroke-linecap="butt"/>
<circle cx="1678.0" cy="370.5" r="2.7" fill="#1c1c1c"/>
<circle cx="1674.4" cy="379.7" r="2.7" fill="#1c1c1c"/>
<circle cx="1681.6" cy="379.7" r="2.7" fill="#1c1c1c"/>
<line x1="1707.4" y1="359.2" x2="1707.4" y2="371.2" stroke="#9e9e9e" stroke-width="1.4" stroke-linecap="butt"/>
<line x1="1704.9" y1="359.2" x2="1709.9" y2="359.2" stroke="#9e9e9e" stroke-width="1.4" stroke-linecap="butt"/>
<line x1="1704.9" y1="371.2" x2="1709.9" y2="371.2" stroke="#9e9e9e" stroke-width="1.4" stroke-linecap="butt"/>
<circle cx="1707.4" cy="357.1" r="2.7" fill="#1c1c1c"/>
<circle cx="1703.8" cy="368.5" r="2.7" fill="#1c1c1c"/>
<circle cx="1711.0" cy="368.5" r="2.7" fill="#1c1c1c"/>
<line x1="1725.0" y1="366.3" x2="1725.0" y2="377.1" stroke="#9e9e9e" stroke-width="1.4" stroke-linecap="butt"/>
<line x1="1722.5" y1="366.3" x2="1727.5" y2="366.3" stroke="#9e9e9e" stroke-width="1.4" stroke-linecap="butt"/>
<line x1="1722.5" y1="377.1" x2="1727.5" y2="377.1" stroke="#9e9e9e" stroke-width="1.4" stroke-linecap="butt"/>
<circle cx="1725.0" cy="364.4" r="2.7" fill="#1c1c1c"/>
<circle cx="1721.4" cy="374.6" r="2.7" fill="#1c1c1c"/>
<circle cx="1728.6" cy="374.6" r="2.7" fill="#1c1c1c"/>
<line x1="1742.6" y1="272.6" x2="1742.6" y2="297.8" stroke="#9e9e9e" stroke-width="1.4" stroke-linecap="butt"/>
<line x1="1740.1" y1="272.6" x2="1745.1" y2="272.6" stroke="#9e9e9e" stroke-width="1.4" stroke-linecap="butt"/>
<line x1="1740.1" y1="297.8" x2="1745.1" y2="297.8" stroke="#9e9e9e" stroke-width="1.4" stroke-linecap="butt"/>
<circle cx="1742.6" cy="268.2" r="2.7" fill="#1c1c1c"/>
<circle cx="1739.0" cy="292.1" r="2.7" fill="#1c1c1c"/>
<circle cx="1746.2" cy="292.1" r="2.7" fill="#1c1c1c"/>
<line x1="1772.0" y1="354.3" x2="1772.0" y2="367.2" stroke="#9e9e9e" stroke-width="1.4" stroke-linecap="butt"/>
<line x1="1769.5" y1="354.3" x2="1774.5" y2="354.3" stroke="#9e9e9e" stroke-width="1.4" stroke-linecap="butt"/>
<line x1="1769.5" y1="367.2" x2="1774.5" y2="367.2" stroke="#9e9e9e" stroke-width="1.4" stroke-linecap="butt"/>
<circle cx="1772.0" cy="352.0" r="2.7" fill="#1c1c1c"/>
<circle cx="1768.4" cy="364.3" r="2.7" fill="#1c1c1c"/>
<circle cx="1775.6" cy="364.3" r="2.7" fill="#1c1c1c"/>
<line x1="1789.6" y1="359.4" x2="1789.6" y2="371.4" stroke="#9e9e9e" stroke-width="1.4" stroke-linecap="butt"/>
<line x1="1787.1" y1="359.4" x2="1792.1" y2="359.4" stroke="#9e9e9e" stroke-width="1.4" stroke-linecap="butt"/>
<line x1="1787.1" y1="371.4" x2="1792.1" y2="371.4" stroke="#9e9e9e" stroke-width="1.4" stroke-linecap="butt"/>
<circle cx="1789.6" cy="357.3" r="2.7" fill="#1c1c1c"/>
<circle cx="1786.0" cy="368.7" r="2.7" fill="#1c1c1c"/>
<circle cx="1793.2" cy="368.7" r="2.7" fill="#1c1c1c"/>
<line x1="1807.2" y1="371.2" x2="1807.2" y2="381.1" stroke="#9e9e9e" stroke-width="1.4" stroke-linecap="butt"/>
<line x1="1804.7" y1="371.2" x2="1809.7" y2="371.2" stroke="#9e9e9e" stroke-width="1.4" stroke-linecap="butt"/>
<line x1="1804.7" y1="381.1" x2="1809.7" y2="381.1" stroke="#9e9e9e" stroke-width="1.4" stroke-linecap="butt"/>
<circle cx="1807.2" cy="369.5" r="2.7" fill="#1c1c1c"/>
<circle cx="1803.6" cy="378.8" r="2.7" fill="#1c1c1c"/>
<circle cx="1810.8" cy="378.8" r="2.7" fill="#1c1c1c"/>
<line x1="1836.6" y1="354.5" x2="1836.6" y2="367.4" stroke="#9e9e9e" stroke-width="1.4" stroke-linecap="butt"/>
<line x1="1834.1" y1="354.5" x2="1839.1" y2="354.5" stroke="#9e9e9e" stroke-width="1.4" stroke-linecap="butt"/>
<line x1="1834.1" y1="367.4" x2="1839.1" y2="367.4" stroke="#9e9e9e" stroke-width="1.4" stroke-linecap="butt"/>
<circle cx="1836.6" cy="352.2" r="2.7" fill="#1c1c1c"/>
<circle cx="1833.0" cy="364.5" r="2.7" fill="#1c1c1c"/>
<circle cx="1840.2" cy="364.5" r="2.7" fill="#1c1c1c"/>
<line x1="1854.2" y1="357.6" x2="1854.2" y2="369.9" stroke="#9e9e9e" stroke-width="1.4" stroke-linecap="butt"/>
<line x1="1851.7" y1="357.6" x2="1856.7" y2="357.6" stroke="#9e9e9e" stroke-width="1.4" stroke-linecap="butt"/>
<line x1="1851.7" y1="369.9" x2="1856.7" y2="369.9" stroke="#9e9e9e" stroke-width="1.4" stroke-linecap="butt"/>
<circle cx="1854.2" cy="355.4" r="2.7" fill="#1c1c1c"/>
<circle cx="1850.6" cy="367.1" r="2.7" fill="#1c1c1c"/>
<circle cx="1857.8" cy="367.1" r="2.7" fill="#1c1c1c"/>
<line x1="1871.8" y1="213.4" x2="1871.8" y2="248.4" stroke="#9e9e9e" stroke-width="1.4" stroke-linecap="butt"/>
<line x1="1869.3" y1="213.4" x2="1874.3" y2="213.4" stroke="#9e9e9e" stroke-width="1.4" stroke-linecap="butt"/>
<line x1="1869.3" y1="248.4" x2="1874.3" y2="248.4" stroke="#9e9e9e" stroke-width="1.4" stroke-linecap="butt"/>
<circle cx="1871.8" cy="207.3" r="2.7" fill="#1c1c1c"/>
<circle cx="1868.2" cy="240.6" r="2.7" fill="#1c1c1c"/>
<circle cx="1875.4" cy="240.6" r="2.7" fill="#1c1c1c"/>
<line x1="1901.2" y1="357.4" x2="1901.2" y2="369.7" stroke="#9e9e9e" stroke-width="1.4" stroke-linecap="butt"/>
<line x1="1898.7" y1="357.4" x2="1903.7" y2="357.4" stroke="#9e9e9e" stroke-width="1.4" stroke-linecap="butt"/>
<line x1="1898.7" y1="369.7" x2="1903.7" y2="369.7" stroke="#9e9e9e" stroke-width="1.4" stroke-linecap="butt"/>
<circle cx="1901.2" cy="355.2" r="2.7" fill="#1c1c1c"/>
<circle cx="1897.6" cy="366.9" r="2.7" fill="#1c1c1c"/>
<circle cx="1904.8" cy="366.9" r="2.7" fill="#1c1c1c"/>
<line x1="1918.8" y1="358.4" x2="1918.8" y2="370.6" stroke="#9e9e9e" stroke-width="1.4" stroke-linecap="butt"/>
<line x1="1916.3" y1="358.4" x2="1921.3" y2="358.4" stroke="#9e9e9e" stroke-width="1.4" stroke-linecap="butt"/>
<line x1="1916.3" y1="370.6" x2="1921.3" y2="370.6" stroke="#9e9e9e" stroke-width="1.4" stroke-linecap="butt"/>
<circle cx="1918.8" cy="356.2" r="2.7" fill="#1c1c1c"/>
<circle cx="1915.2" cy="367.8" r="2.7" fill="#1c1c1c"/>
<circle cx="1922.4" cy="367.8" r="2.7" fill="#1c1c1c"/>
<line x1="1936.4" y1="167.8" x2="1936.4" y2="210.4" stroke="#9e9e9e" stroke-width="1.4" stroke-linecap="butt"/>
<line x1="1933.9" y1="167.8" x2="1938.9" y2="167.8" stroke="#9e9e9e" stroke-width="1.4" stroke-linecap="butt"/>
<line x1="1933.9" y1="210.4" x2="1938.9" y2="210.4" stroke="#9e9e9e" stroke-width="1.4" stroke-linecap="butt"/>
<circle cx="1936.4" cy="160.4" r="2.7" fill="#1c1c1c"/>
<circle cx="1932.8" cy="200.8" r="2.7" fill="#1c1c1c"/>
<circle cx="1940.0" cy="200.8" r="2.7" fill="#1c1c1c"/>
<rect x="1639.5" y="19.5" width="17.7" height="12.8" fill="#ffffff" stroke="#222" stroke-width="2.2"/>
<text x="1664.2" y="34.6" font-size="27.2">dCas9 –, gRNA –</text>
<rect x="1639.5" y="55.5" width="17.7" height="12.8" fill="#e6cbe3" stroke="#222" stroke-width="2.2"/>
<text x="1664.2" y="70.6" font-size="27.2">dCas9 +, gRNA –</text>
<rect x="1639.5" y="91.5" width="17.7" height="12.8" fill="#7a2280" stroke="#222" stroke-width="2.2"/>
<text x="1664.2" y="106.6" font-size="27.2">dCas9 +, gRNA +</text>
<path d="M1873 200.4 L1873 133.7 L1935.5 133.7 L1935.5 148.7" fill="none" stroke="#1c1c1c" stroke-width="2.6" stroke-linecap="butt" stroke-linejoin="miter"/>
<text x="1904.0" y="126.7" font-size="26.5" text-anchor="middle">ns</text>
<text x="1484.0" y="461.0" font-size="26.5">crRNA</text>
<text x="1484.0" y="495.4" font-size="26.5">tracrRNA</text>
<text x="1661.9" y="461.0" font-size="26.5" text-anchor="middle">mis</text>
<text x="1661.9" y="495.4" font-size="26.5" text-anchor="middle">WT</text>
<text x="1726.5" y="461.0" font-size="26.5" text-anchor="middle">WT</text>
<text x="1726.5" y="495.4" font-size="26.5" text-anchor="middle">WT</text>
<text x="1791.1" y="461.0" font-size="26.5" text-anchor="middle">mis</text>
<text x="1791.1" y="495.4" font-size="26.5" text-anchor="middle">WT</text>
<text x="1855.7" y="461.0" font-size="26.5" text-anchor="middle">WT</text>
<text x="1855.7" y="495.4" font-size="26.5" text-anchor="middle">WT</text>
<text x="1920.3" y="461.0" font-size="26.5" text-anchor="middle">WT</text>
<text x="1920.3" y="495.4" font-size="26.5" text-anchor="middle">WT</text>
<text x="1951.8" y="521.7" font-size="26.5" text-anchor="end"><tspan font-style="italic">rnc</tspan> +</text>
<line x1="1641.6" y1="529.5" x2="1751.5" y2="529.5" stroke="#1c1c1c" stroke-width="2.6" stroke-linecap="butt"/>
<line x1="1764.4" y1="529.5" x2="1946.6" y2="529.5" stroke="#1c1c1c" stroke-width="2.6" stroke-linecap="butt"/>
<text x="1484.5" y="556.6" font-size="26.5" font-style="italic">E. coli</text>
<text x="1695.9" y="560.5" font-size="26.5" text-anchor="middle">W3110</text>
<text x="1857.5" y="560.5" font-size="26.5" text-anchor="middle">HT115</text>
<text x="2.5" y="666.8" font-size="49" fill="#000">c</text>
<g transform="translate(-1361.04 564.70) scale(1.267)"><ellipse cx="1211" cy="214.5" rx="82" ry="68.5" fill="#e0eaf4"/><ellipse cx="1221" cy="270" rx="63" ry="38" fill="#e0eaf4"/><line x1="1118.5" y1="188.4" x2="1160.5" y2="188.4" stroke="#8396b3" stroke-width="5.0" stroke-linecap="butt"/><line x1="1160.5" y1="188.4" x2="1260.3" y2="188.4" stroke="#6c3a94" stroke-width="5.0" stroke-linecap="butt"/><line x1="1260.3" y1="188.4" x2="1275.3" y2="188.4" stroke="#f8c7a3" stroke-width="5.0" stroke-linecap="butt"/><line x1="1275.3" y1="188.4" x2="1319.8" y2="188.4" stroke="#8396b3" stroke-width="5.0" stroke-linecap="butt"/><line x1="1118.5" y1="206.3" x2="1159.5" y2="206.3" stroke="#8396b3" stroke-width="5.0" stroke-linecap="butt"/><path d="M1158.5 206.3 L1159.5 206.3 L1171 218.9 L1250.2 218.9 L1261.6 206.3" fill="none" stroke="#6c3a94" stroke-width="5.0" stroke-linejoin="miter"/><line x1="1261.0" y1="206.3" x2="1319.8" y2="206.3" stroke="#8396b3" stroke-width="5.0" stroke-linecap="butt"/><line x1="1169.9" y1="238.6" x2="1250.9" y2="238.6" stroke="#6c3a94" stroke-width="5.0" stroke-linecap="butt"/><line x1="1250.9" y1="238.6" x2="1310" y2="238.6" stroke="#b1adac" stroke-width="5.0" stroke-linecap="butt"/><line x1="1310" y1="238.6" x2="1330.3" y2="238.6" stroke="#f4a9b7" stroke-width="5.0" stroke-linecap="butt"/><path d="M1312.1 256.7 L1207.2 256.7 A8.55 8.55 0 0 0 1207.2 273.8 L1292.6 273.8 A8.85 8.85 0 0 1 1292.6 291.5 L1237.5 291.5 A8.85 8.85 0 0 0 1237.5 309.2 L1275.3 309.2" fill="none" stroke="#b1adac" stroke-width="4.6"/><path d="M1275.3 309.2 A8.8 8.8 0 0 1 1275.3 326.8" fill="none" stroke="#4aa6d8" stroke-width="4.6"/><line x1="1275.3" y1="326.8" x2="1237.9" y2="326.8" stroke="#b1adac" stroke-width="4.6"/><path d="M1237.9 326.8 A8.7 8.7 0 0 0 1237.9 344.2" fill="none" stroke="#4aa6d8" stroke-width="4.6"/><line x1="1237.9" y1="344.2" x2="1274.6" y2="344.2" stroke="#b1adac" stroke-width="4.6"/><path d="M1274.6 344.2 A8.8 8.8 0 0 1 1274.6 361.8" fill="none" stroke="#4aa6d8" stroke-width="4.6"/><line x1="1274.6" y1="361.8" x2="1241" y2="361.8" stroke="#b1adac" stroke-width="4.6"/></g>
<line x1="247.3" y1="798.2" x2="296.4" y2="763.8" stroke="#1c1c1c" stroke-width="3.0" stroke-linecap="butt"/>
<line x1="117.5" y1="869.0" x2="68.4" y2="902.4" stroke="#1c1c1c" stroke-width="3.0" stroke-linecap="butt"/>
<line x1="159.6" y1="914.6" x2="110.5" y2="948.0" stroke="#1c1c1c" stroke-width="3.0" stroke-linecap="butt"/>
<line x1="191.2" y1="998.1" x2="142.0" y2="1032.1" stroke="#1c1c1c" stroke-width="3.0" stroke-linecap="butt"/>
<text x="171.9" y="789.0" font-size="27.8" text-anchor="middle">dCas9</text>
<text x="297.0" y="774.3" font-size="28.0">PAM</text>
<text x="2.5" y="921.6" font-size="28.0">spacer</text>
<text x="-1.0" y="974.3" font-size="28.0">tracrRNA</text>
<text x="32.5" y="1039.0" font-size="28.0">aptamer</text>
<text x="410.0" y="774.3" font-size="27.8">matching region WT</text>
<rect x="207" y="861.3" width="56.8" height="37.6" rx="6" fill="none" stroke="#1a1a1a" stroke-width="4" stroke-dasharray="11 6"/>
<line x1="263.8" y1="861.3" x2="401.6" y2="798.9" stroke="#1a1a1a" stroke-width="4" stroke-linecap="butt" stroke-dasharray="17 10"/>
<line x1="263.8" y1="898.9" x2="401.6" y2="919.9" stroke="#1a1a1a" stroke-width="4" stroke-linecap="butt" stroke-dasharray="17 10"/>
<rect x="398.7" y="795.5" width="263" height="129.8" rx="19" fill="none" stroke="#1a1a1a" stroke-width="4.2" stroke-dasharray="17.5 13" stroke-dashoffset="-4"/>
<text x="408.2 413.4" y="839.0" font-size="16.6" fill="#a9a9a9" font-family="'Liberation Sans', Arial, sans-serif">--</text>
<text x="426.5 438.5" y="839.0" font-size="16.6" fill="#6b3d9c" font-family="'Liberation Sans', Arial, sans-serif">NN</text>
<text x="452.7 464.3" y="839.0" font-size="16.6" fill="#6b3d9c" font-family="'Liberation Sans', Arial, sans-serif">NN</text>
<text x="480.9 493.1 505.4 517.6 529.9 542.1" y="839.0" font-size="16.6" fill="#a9a9a9" font-family="'Liberation Sans', Arial, sans-serif">GUUUUA</text>
<text x="554.3 566.6" y="839.0" font-size="16.6" fill="#e3302f" font-family="'Liberation Sans', Arial, sans-serif">GA</text>
<text x="578.8 591.1 603.3 615.5" y="839.0" font-size="16.6" fill="#a9a9a9" font-family="'Liberation Sans', Arial, sans-serif">GCUA</text>
<text x="631.3 636.5" y="839.0" font-size="16.6" fill="#a9a9a9" font-family="'Liberation Sans', Arial, sans-serif">--</text>
<text x="460.8 466.0" y="881.5" font-size="16.6" fill="#a9a9a9" font-family="'Liberation Sans', Arial, sans-serif">--</text>
<text x="480.9 493.1 505.4 517.6 529.9 542.1 554.3" y="881.5" font-size="16.6" fill="#a9a9a9" font-family="'Liberation Sans', Arial, sans-serif">UAAAAUU</text>
<text x="578.8 591.1 603.3 615.5" y="881.5" font-size="16.6" fill="#a9a9a9" font-family="'Liberation Sans', Arial, sans-serif">CGAU</text>
<text x="631.3 636.5" y="881.5" font-size="16.6" fill="#a9a9a9" font-family="'Liberation Sans', Arial, sans-serif">--</text>
<text x="554.3" y="897.2" font-size="16.6" fill="#a9a9a9" font-family="'Liberation Sans', Arial, sans-serif">G</text>
<text x="566.5" y="905.6" font-size="16.6" fill="#a9a9a9" font-family="'Liberation Sans', Arial, sans-serif">A</text>
<text x="579.0" y="897.2" font-size="16.6" fill="#a9a9a9" font-family="'Liberation Sans', Arial, sans-serif">A</text>
<circle cx="487.0" cy="854.1" r="2.4" fill="#111"/>
<rect x="497.1" y="843.9" width="4.4" height="20.4" fill="#111"/>
<rect x="509.3" y="843.9" width="4.4" height="20.4" fill="#111"/>
<rect x="521.5" y="843.9" width="4.4" height="20.4" fill="#111"/>
<rect x="533.8" y="843.9" width="4.4" height="20.4" fill="#111"/>
<rect x="546.0" y="843.9" width="4.4" height="20.4" fill="#111"/>
<circle cx="560.5" cy="854.1" r="2.4" fill="#111"/>
<rect x="582.7" y="843.9" width="4.4" height="20.4" fill="#111"/>
<rect x="595.0" y="843.9" width="4.4" height="20.4" fill="#111"/>
<rect x="607.2" y="843.9" width="4.4" height="20.4" fill="#111"/>
<rect x="619.5" y="843.9" width="4.4" height="20.4" fill="#111"/>
<rect x="783.5" y="691.2" width="356.0" height="355.1" fill="#11111f"/>
<rect x="872.2" y="975.0" width="267.6" height="71.6" fill="#ffffff"/>
<rect x="827.8" y="691.0" width="44.9" height="71.4" fill="#f5b07e"/>
<rect x="916.8" y="691.0" width="44.9" height="71.4" fill="#f39c6f"/>
<rect x="961.3" y="691.0" width="44.9" height="71.4" fill="#131320"/>
<rect x="1005.8" y="691.0" width="44.9" height="71.4" fill="#f28e66"/>
<rect x="1094.8" y="691.0" width="44.9" height="71.4" fill="#ef7b5d"/>
<rect x="827.8" y="762.0" width="44.9" height="71.4" fill="#f6bf8b"/>
<rect x="916.8" y="762.0" width="44.9" height="71.4" fill="#f9d69e"/>
<rect x="961.3" y="762.0" width="44.9" height="71.4" fill="#0e0e17"/>
<rect x="1005.8" y="762.0" width="44.9" height="71.4" fill="#f5b482"/>
<rect x="1094.8" y="762.0" width="44.9" height="71.4" fill="#f9dda4"/>
<rect x="827.8" y="833.0" width="44.9" height="71.4" fill="#f6f2c1"/>
<rect x="916.8" y="833.0" width="44.9" height="71.4" fill="#f07c5e"/>
<rect x="1005.8" y="833.0" width="44.9" height="71.4" fill="#f4a97a"/>
<rect x="1094.8" y="833.0" width="44.9" height="71.4" fill="#e9625e"/>
<rect x="827.8" y="904.1" width="44.9" height="71.4" fill="#8b2a82"/>
<rect x="872.3" y="904.1" width="44.9" height="71.4" fill="#131320"/>
<rect x="916.8" y="904.1" width="44.9" height="71.4" fill="#f4a677"/>
<rect x="1005.8" y="904.1" width="44.9" height="71.4" fill="#f4a577"/>
<rect x="1094.8" y="904.1" width="44.9" height="71.4" fill="#f8d39d"/>
<line x1="872.5" y1="975.3" x2="917.0" y2="1046.3" stroke="#1a1a1a" stroke-width="1.1" stroke-linecap="butt"/>
<line x1="917.0" y1="975.3" x2="872.5" y2="1046.3" stroke="#1a1a1a" stroke-width="1.1" stroke-linecap="butt"/>
<line x1="917.0" y1="975.3" x2="961.5" y2="1046.3" stroke="#1a1a1a" stroke-width="1.1" stroke-linecap="butt"/>
<line x1="961.5" y1="975.3" x2="917.0" y2="1046.3" stroke="#1a1a1a" stroke-width="1.1" stroke-linecap="butt"/>
<line x1="961.5" y1="975.3" x2="1006.0" y2="1046.3" stroke="#1a1a1a" stroke-width="1.1" stroke-linecap="butt"/>
<line x1="1006.0" y1="975.3" x2="961.5" y2="1046.3" stroke="#1a1a1a" stroke-width="1.1" stroke-linecap="butt"/>
<line x1="1006.0" y1="975.3" x2="1050.5" y2="1046.3" stroke="#1a1a1a" stroke-width="1.1" stroke-linecap="butt"/>
<line x1="1050.5" y1="975.3" x2="1006.0" y2="1046.3" stroke="#1a1a1a" stroke-width="1.1" stroke-linecap="butt"/>
<line x1="1050.5" y1="975.3" x2="1095.0" y2="1046.3" stroke="#1a1a1a" stroke-width="1.1" stroke-linecap="butt"/>
<line x1="1095.0" y1="975.3" x2="1050.5" y2="1046.3" stroke="#1a1a1a" stroke-width="1.1" stroke-linecap="butt"/>
<line x1="1095.0" y1="975.3" x2="1139.5" y2="1046.3" stroke="#1a1a1a" stroke-width="1.1" stroke-linecap="butt"/>
<line x1="1139.5" y1="975.3" x2="1095.0" y2="1046.3" stroke="#1a1a1a" stroke-width="1.1" stroke-linecap="butt"/>
<rect x="783.5" y="691.2" width="356.0" height="355.1" fill="none" stroke="#1e1e1e" stroke-width="2.6"/>
<line x1="773.6" y1="726.7" x2="783.5" y2="726.7" stroke="#1c1c1c" stroke-width="2.6" stroke-linecap="butt"/>
<text x="770.5" y="736.9" font-size="27.4" text-anchor="end">A</text>
<line x1="773.6" y1="797.7" x2="783.5" y2="797.7" stroke="#1c1c1c" stroke-width="2.6" stroke-linecap="butt"/>
<text x="770.5" y="807.9" font-size="27.4" text-anchor="end">T</text>
<line x1="773.6" y1="868.8" x2="783.5" y2="868.8" stroke="#1c1c1c" stroke-width="2.6" stroke-linecap="butt"/>
<text x="770.5" y="879.0" font-size="27.4" text-anchor="end">G</text>
<line x1="773.6" y1="939.8" x2="783.5" y2="939.8" stroke="#1c1c1c" stroke-width="2.6" stroke-linecap="butt"/>
<text x="770.5" y="950.0" font-size="27.4" text-anchor="end">C</text>
<line x1="773.6" y1="1010.8" x2="783.5" y2="1010.8" stroke="#1c1c1c" stroke-width="2.6" stroke-linecap="butt"/>
<text x="770.5" y="1021.0" font-size="27.4" text-anchor="end">mis</text>
<line x1="805.8" y1="1046.3" x2="805.8" y2="1056.0" stroke="#1c1c1c" stroke-width="2.6" stroke-linecap="butt"/>
<text x="817.2" y="1073.5" font-size="27.5" text-anchor="end" transform="rotate(-45 817.2 1073.5)">Off</text>
<line x1="850.2" y1="1046.3" x2="850.2" y2="1056.0" stroke="#1c1c1c" stroke-width="2.6" stroke-linecap="butt"/>
<text x="861.8" y="1073.5" font-size="27.5" text-anchor="end" transform="rotate(-45 861.8 1073.5)">On</text>
<line x1="894.8" y1="1046.3" x2="894.8" y2="1056.0" stroke="#1c1c1c" stroke-width="2.6" stroke-linecap="butt"/>
<text x="906.2" y="1073.5" font-size="27.5" text-anchor="end" transform="rotate(-45 906.2 1073.5)">Off</text>
<line x1="939.2" y1="1046.3" x2="939.2" y2="1056.0" stroke="#1c1c1c" stroke-width="2.6" stroke-linecap="butt"/>
<text x="950.8" y="1073.5" font-size="27.5" text-anchor="end" transform="rotate(-45 950.8 1073.5)">On</text>
<line x1="983.8" y1="1046.3" x2="983.8" y2="1056.0" stroke="#1c1c1c" stroke-width="2.6" stroke-linecap="butt"/>
<text x="995.2" y="1073.5" font-size="27.5" text-anchor="end" transform="rotate(-45 995.2 1073.5)">Off</text>
<line x1="1028.2" y1="1046.3" x2="1028.2" y2="1056.0" stroke="#1c1c1c" stroke-width="2.6" stroke-linecap="butt"/>
<text x="1039.8" y="1073.5" font-size="27.5" text-anchor="end" transform="rotate(-45 1039.8 1073.5)">On</text>
<line x1="1072.8" y1="1046.3" x2="1072.8" y2="1056.0" stroke="#1c1c1c" stroke-width="2.6" stroke-linecap="butt"/>
<text x="1084.2" y="1073.5" font-size="27.5" text-anchor="end" transform="rotate(-45 1084.2 1073.5)">Off</text>
<line x1="1117.2" y1="1046.3" x2="1117.2" y2="1056.0" stroke="#1c1c1c" stroke-width="2.6" stroke-linecap="butt"/>
<text x="1128.8" y="1073.5" font-size="27.5" text-anchor="end" transform="rotate(-45 1128.8 1073.5)">On</text>
<line x1="788.5" y1="1108.2" x2="866.1" y2="1108.2" stroke="#1c1c1c" stroke-width="3.2" stroke-linecap="butt"/>
<text x="825.7" y="1137.3" font-size="27" text-anchor="middle">A</text>
<line x1="879.4" y1="1108.2" x2="958.9" y2="1108.2" stroke="#1c1c1c" stroke-width="3.2" stroke-linecap="butt"/>
<text x="919.5" y="1137.3" font-size="27" text-anchor="middle">T</text>
<line x1="967.8" y1="1108.2" x2="1046.7" y2="1108.2" stroke="#1c1c1c" stroke-width="3.2" stroke-linecap="butt"/>
<text x="1006.6" y="1137.3" font-size="27" text-anchor="middle">G</text>
<line x1="1059.3" y1="1108.2" x2="1137.6" y2="1108.2" stroke="#1c1c1c" stroke-width="3.2" stroke-linecap="butt"/>
<text x="1097.2" y="1137.3" font-size="27" text-anchor="middle">C</text>
<text x="967.1" y="1168.2" font-size="24.6" text-anchor="middle">2nd (A to N)</text>
<text x="727.9" y="865.0" font-size="23.4" text-anchor="middle" transform="rotate(-90 727.9 865.0)">1st (G to N)</text>
<defs><linearGradient id="magc" x1="0" y1="0" x2="0" y2="1"><stop offset="0.00" stop-color="#fcfdbf"/><stop offset="0.05" stop-color="#fde7a9"/><stop offset="0.10" stop-color="#fecf92"/><stop offset="0.15" stop-color="#feb77e"/><stop offset="0.20" stop-color="#fe9f6d"/><stop offset="0.25" stop-color="#fc8961"/><stop offset="0.30" stop-color="#f7705c"/><stop offset="0.35" stop-color="#ed5a5f"/><stop offset="0.40" stop-color="#de4968"/><stop offset="0.45" stop-color="#ca3e72"/><stop offset="0.50" stop-color="#b73779"/><stop offset="0.55" stop-color="#a1307e"/><stop offset="0.60" stop-color="#8c2981"/><stop offset="0.65" stop-color="#782281"/><stop offset="0.70" stop-color="#641a80"/><stop offset="0.75" stop-color="#51127c"/><stop offset="0.80" stop-color="#3b0f70"/><stop offset="0.85" stop-color="#251255"/><stop offset="0.90" stop-color="#140e36"/><stop offset="0.95" stop-color="#06051a"/><stop offset="1.00" stop-color="#000004"/></linearGradient></defs>
<rect x="1171.1" y="691.9" width="27.4" height="354.4" fill="url(#magc)" stroke="#1e1e1e" stroke-width="2.6"/>
<text x="1207.0" y="1055.9" font-size="26.5">0</text>
<line x1="1171.1" y1="975.4" x2="1175.5" y2="975.4" stroke="#1c1c1c" stroke-width="2.4" stroke-linecap="butt"/>
<line x1="1194.2" y1="975.4" x2="1198.5" y2="975.4" stroke="#1c1c1c" stroke-width="2.4" stroke-linecap="butt"/>
<text x="1207.0" y="985.0" font-size="26.5">0.2</text>
<line x1="1171.1" y1="904.5" x2="1175.5" y2="904.5" stroke="#1c1c1c" stroke-width="2.4" stroke-linecap="butt"/>
<line x1="1194.2" y1="904.5" x2="1198.5" y2="904.5" stroke="#1c1c1c" stroke-width="2.4" stroke-linecap="butt"/>
<text x="1207.0" y="914.1" font-size="26.5">0.4</text>
<line x1="1171.1" y1="833.7" x2="1175.5" y2="833.7" stroke="#1c1c1c" stroke-width="2.4" stroke-linecap="butt"/>
<line x1="1194.2" y1="833.7" x2="1198.5" y2="833.7" stroke="#1c1c1c" stroke-width="2.4" stroke-linecap="butt"/>
<text x="1207.0" y="843.3" font-size="26.5">0.6</text>
<line x1="1171.1" y1="762.8" x2="1175.5" y2="762.8" stroke="#1c1c1c" stroke-width="2.4" stroke-linecap="butt"/>
<line x1="1194.2" y1="762.8" x2="1198.5" y2="762.8" stroke="#1c1c1c" stroke-width="2.4" stroke-linecap="butt"/>
<text x="1207.0" y="772.4" font-size="26.5">0.8</text>
<text x="1207.0" y="701.5" font-size="26.5">1.0</text>
<text x="1289.7" y="672.6" font-size="26.6" text-anchor="end" transform="rotate(-90 1289.7 672.6)">Normalized fluorescence / <tspan font-style="italic">A</tspan><tspan font-style="italic" font-size="18.8">600</tspan> (a.u.)</text>
<text x="1364.5" y="665.3" font-size="50" fill="#000">d</text>
<text x="1644.5" y="690.6" font-size="26.8" text-anchor="middle">matching region U5</text>
<rect x="1510.5" y="710.5" width="272.1" height="134.5" rx="20" fill="none" stroke="#1a1a1a" stroke-width="4.2" stroke-dasharray="17.6 13.7" stroke-dashoffset="-15"/>
<text x="1520.3 1525.5" y="755.9" font-size="17.0" fill="#a9a9a9" font-family="'Liberation Sans', Arial, sans-serif">--</text>
<text x="1539.4 1551.2 1563.0" y="755.9" font-size="17.0" fill="#6b3d9c" font-family="'Liberation Sans', Arial, sans-serif">NNN</text>
<text x="1580.6" y="755.9" font-size="17.0" fill="#6b3d9c" font-family="'Liberation Sans', Arial, sans-serif">N</text>
<text x="1594.7" y="755.9" font-size="17.0" fill="#e3302f" font-family="'Liberation Sans', Arial, sans-serif">G</text>
<text x="1607.2 1619.6 1632.1 1644.6 1657.0 1669.5 1682.0 1694.5 1706.9 1719.4 1731.9" y="755.9" font-size="17.0" fill="#a9a9a9" font-family="'Liberation Sans', Arial, sans-serif">AAAAUGACGAU</text>
<text x="1745.5 1750.7" y="755.9" font-size="17.0" fill="#a9a9a9" font-family="'Liberation Sans', Arial, sans-serif">--</text>
<text x="1575.2 1580.4" y="799.2" font-size="17.0" fill="#a9a9a9" font-family="'Liberation Sans', Arial, sans-serif">--</text>
<text x="1594.7 1607.2 1619.6 1632.1 1644.6 1657.0 1669.5" y="799.2" font-size="17.0" fill="#a9a9a9" font-family="'Liberation Sans', Arial, sans-serif">UUUUUAU</text>
<text x="1694.5 1706.9 1719.4 1731.9" y="799.2" font-size="17.0" fill="#a9a9a9" font-family="'Liberation Sans', Arial, sans-serif">GCUA</text>
<text x="1745.5 1750.7" y="799.2" font-size="17.0" fill="#a9a9a9" font-family="'Liberation Sans', Arial, sans-serif">--</text>
<text x="1670.2" y="815.4" font-size="17.0" fill="#a9a9a9" font-family="'Liberation Sans', Arial, sans-serif">G</text>
<text x="1682.6" y="824.5" font-size="17.0" fill="#a9a9a9" font-family="'Liberation Sans', Arial, sans-serif">A</text>
<text x="1695.0" y="815.4" font-size="17.0" fill="#a9a9a9" font-family="'Liberation Sans', Arial, sans-serif">A</text>
<circle cx="1600.9" cy="771.4" r="2.4" fill="#111"/>
<rect x="1611.2" y="760.9" width="4.5" height="21.0" fill="#111"/>
<rect x="1623.6" y="760.9" width="4.5" height="21.0" fill="#111"/>
<rect x="1636.1" y="760.9" width="4.5" height="21.0" fill="#111"/>
<rect x="1648.6" y="760.9" width="4.5" height="21.0" fill="#111"/>
<rect x="1661.0" y="760.9" width="4.5" height="21.0" fill="#111"/>
<circle cx="1675.8" cy="771.4" r="2.4" fill="#111"/>
<rect x="1698.4" y="760.9" width="4.5" height="21.0" fill="#111"/>
<rect x="1710.9" y="760.9" width="4.5" height="21.0" fill="#111"/>
<rect x="1723.4" y="760.9" width="4.5" height="21.0" fill="#111"/>
<rect x="1735.9" y="760.9" width="4.5" height="21.0" fill="#111"/>
<rect x="1448.1" y="887.4" width="386.3" height="96.1" fill="#0f0f19"/>
<rect x="1447.9" y="983.5" width="97.0" height="97.0" fill="#e3605c"/>
<rect x="1544.5" y="983.5" width="97.0" height="97.0" fill="#f5c78d"/>
<rect x="1641.0" y="983.5" width="97.0" height="97.0" fill="#f5e1a6"/>
<rect x="1737.6" y="983.5" width="97.0" height="97.0" fill="#f0966b"/>
<rect x="1448.1" y="887.4" width="386.3" height="193.1" fill="none" stroke="#1e1e1e" stroke-width="4.0"/>
<line x1="1431.3" y1="936.1" x2="1448.1" y2="936.1" stroke="#1c1c1c" stroke-width="3.6" stroke-linecap="butt"/>
<line x1="1431.3" y1="1031.9" x2="1448.1" y2="1031.9" stroke="#1c1c1c" stroke-width="3.6" stroke-linecap="butt"/>
<text x="1422.4" y="945.7" font-size="27.2" text-anchor="end">Off</text>
<text x="1422.4" y="1041.5" font-size="27.2" text-anchor="end">On</text>
<line x1="1496.4" y1="1080.5" x2="1496.4" y2="1096.0" stroke="#1c1c1c" stroke-width="3.4" stroke-linecap="butt"/>
<text x="1496.4" y="1121.6" font-size="27.2" text-anchor="middle">G</text>
<line x1="1593.0" y1="1080.5" x2="1593.0" y2="1096.0" stroke="#1c1c1c" stroke-width="3.4" stroke-linecap="butt"/>
<text x="1593.0" y="1121.6" font-size="27.2" text-anchor="middle">C</text>
<line x1="1689.5" y1="1080.5" x2="1689.5" y2="1096.0" stroke="#1c1c1c" stroke-width="3.4" stroke-linecap="butt"/>
<text x="1689.5" y="1121.6" font-size="27.2" text-anchor="middle">A</text>
<line x1="1786.1" y1="1080.5" x2="1786.1" y2="1096.0" stroke="#1c1c1c" stroke-width="3.4" stroke-linecap="butt"/>
<text x="1786.1" y="1121.6" font-size="27.2" text-anchor="middle">U</text>
<defs><linearGradient id="magd" x1="0" y1="0" x2="0" y2="1"><stop offset="0.000" stop-color="#fcfdbf"/><stop offset="0.033" stop-color="#fceeb0"/><stop offset="0.067" stop-color="#fddea0"/><stop offset="0.100" stop-color="#fecf92"/><stop offset="0.133" stop-color="#febf84"/><stop offset="0.167" stop-color="#feb078"/><stop offset="0.200" stop-color="#fe9f6d"/><stop offset="0.233" stop-color="#fc9065"/><stop offset="0.267" stop-color="#fa7f5e"/><stop offset="0.300" stop-color="#f7705c"/><stop offset="0.333" stop-color="#f1605d"/><stop offset="0.367" stop-color="#e95462"/><stop offset="0.400" stop-color="#de4968"/><stop offset="0.433" stop-color="#d2426f"/><stop offset="0.467" stop-color="#c43c75"/><stop offset="0.500" stop-color="#b73779"/><stop offset="0.533" stop-color="#a8327d"/><stop offset="0.567" stop-color="#992d80"/><stop offset="0.600" stop-color="#8c2981"/><stop offset="0.633" stop-color="#7e2482"/><stop offset="0.667" stop-color="#721f81"/><stop offset="0.700" stop-color="#641a80"/><stop offset="0.733" stop-color="#57157e"/><stop offset="0.767" stop-color="#491078"/><stop offset="0.800" stop-color="#3b0f70"/><stop offset="0.833" stop-color="#2c115f"/><stop offset="0.867" stop-color="#20114b"/><stop offset="0.900" stop-color="#140e36"/><stop offset="0.933" stop-color="#0b0924"/><stop offset="0.967" stop-color="#030312"/><stop offset="1.000" stop-color="#000004"/></linearGradient></defs>
<rect x="1849.3" y="887.3" width="48.2" height="192.7" fill="url(#magd)" stroke="#1e1e1e" stroke-width="3.4"/>
<line x1="1851.0" y1="951.6" x2="1857.6" y2="951.6" stroke="#1c1c1c" stroke-width="3.2" stroke-linecap="butt"/>
<line x1="1889.2" y1="951.6" x2="1895.8" y2="951.6" stroke="#1c1c1c" stroke-width="3.2" stroke-linecap="butt"/>
<line x1="1851.0" y1="1015.7" x2="1857.6" y2="1015.7" stroke="#1c1c1c" stroke-width="3.2" stroke-linecap="butt"/>
<line x1="1889.2" y1="1015.7" x2="1895.8" y2="1015.7" stroke="#1c1c1c" stroke-width="3.2" stroke-linecap="butt"/>
<text x="1909.5" y="893.6" font-size="26.4">1.5</text>
<text x="1909.5" y="963.5" font-size="26.4">1.0</text>
<text x="1909.5" y="1026.4" font-size="26.4">0.5</text>
<text x="1909.5" y="1092.2" font-size="26.4">0</text>
<text x="1986.0" y="675.0" font-size="26.5" text-anchor="end" transform="rotate(-90 1986.0 675.0)">Normalized fluorescence / <tspan font-style="italic">A</tspan><tspan font-style="italic" font-size="18.6">600</tspan> (a.u.)</text>
<text x="2.5" y="1223.5" font-size="49.5" fill="#000">e</text>
<circle cx="87.8" cy="1275.8" r="24.4" fill="none" stroke="#1c1c1c" stroke-width="4.3"/>
<path d="M75.08 1255.45 A24.0 24.0 0 0 1 108.79 1264.16" fill="none" stroke="#4a72b8" stroke-width="14.6" stroke-linecap="butt" stroke-linejoin="miter"/>
<circle cx="106.3" cy="1308.2" r="24.4" fill="none" stroke="#1c1c1c" stroke-width="4.3"/>
<path d="M93.58 1287.85 A24.0 24.0 0 0 1 127.29 1296.56" fill="none" stroke="#e96aa3" stroke-width="14.6" stroke-linecap="butt" stroke-linejoin="miter"/>
<circle cx="65.7" cy="1335.5" r="24.4" fill="none" stroke="#1c1c1c" stroke-width="4.3"/>
<path d="M52.98 1315.15 A24.0 24.0 0 0 1 86.69 1323.86" fill="none" stroke="#ec7d2f" stroke-width="14.6" stroke-linecap="butt" stroke-linejoin="miter"/>
<circle cx="94.1" cy="1457.4" r="24.4" fill="none" stroke="#1c1c1c" stroke-width="4.3"/>
<path d="M81.38 1437.05 A24.0 24.0 0 0 1 115.09 1445.76" fill="none" stroke="#4a72b8" stroke-width="14.6" stroke-linecap="butt" stroke-linejoin="miter"/>
<circle cx="112.6" cy="1489.8" r="24.4" fill="none" stroke="#1c1c1c" stroke-width="4.3"/>
<path d="M99.88 1469.45 A24.0 24.0 0 0 1 133.59 1478.16" fill="none" stroke="#e96aa3" stroke-width="14.6" stroke-linecap="butt" stroke-linejoin="miter"/>
<circle cx="72.0" cy="1517.1" r="24.4" fill="none" stroke="#1c1c1c" stroke-width="4.3"/>
<path d="M59.28 1496.75 A24.0 24.0 0 0 1 92.99 1505.46" fill="none" stroke="#ec7d2f" stroke-width="14.6" stroke-linecap="butt" stroke-linejoin="miter"/>
<rect x="176.5" y="1337.9" width="164.4" height="40.5" fill="none" stroke="#1c1c1c" stroke-width="4.5" rx="18"/>
<path d="M192.4 1337.9 V1318.5 H223.0" fill="none" stroke="#1c1c1c" stroke-width="4.5" stroke-linecap="butt" stroke-linejoin="miter"/>
<path d="M207.4 1309.6 L224.0 1318.5 L207.4 1327.4" fill="none" stroke="#1c1c1c" stroke-width="4.6" stroke-linecap="round" stroke-linejoin="miter"/>
<path d="M239.0 1341.9 L239.0 1331.5 C239.0 1326.0 241.5 1321.0 244.8 1321.0 C247.6 1321.0 250.5 1331.1 253.9 1331.1 C256.6 1331.1 257.4 1320.7 260.2 1320.7 C263.3 1320.7 267.0 1331.1 270.1 1331.1 C272.8 1331.1 273.0 1321.6 275.5 1321.6 C279.0 1321.6 283.4 1327.0 283.4 1331.0 L283.4 1341.9 Z" fill="#f0920a" stroke="#1c1c1c" stroke-width="4.4" stroke-linecap="butt" stroke-linejoin="round"/>
<line x1="308.9" y1="1337.9" x2="308.9" y2="1318.9" stroke="#1c1c1c" stroke-width="4.5" stroke-linecap="butt"/>
<line x1="298.1" y1="1318.9" x2="319.7" y2="1318.9" stroke="#1c1c1c" stroke-width="4.5" stroke-linecap="butt"/>
<rect x="176.5" y="1469.0" width="164.4" height="40.5" fill="none" stroke="#1c1c1c" stroke-width="4.5" rx="18"/>
<path d="M192.4 1469.0 V1449.6 H223.0" fill="none" stroke="#1c1c1c" stroke-width="4.5" stroke-linecap="butt" stroke-linejoin="miter"/>
<path d="M207.4 1440.7 L224.0 1449.6 L207.4 1458.5" fill="none" stroke="#1c1c1c" stroke-width="4.6" stroke-linecap="round" stroke-linejoin="miter"/>
<path d="M236.0 1473.0 L236.0 1462.6 C236.0 1457.1 238.5 1452.1 241.8 1452.1 C244.6 1452.1 247.5 1462.2 250.9 1462.2 C253.6 1462.2 254.4 1451.8 257.2 1451.8 C260.3 1451.8 264.0 1462.2 267.1 1462.2 C269.8 1462.2 270.0 1452.7 272.5 1452.7 C276.0 1452.7 280.4 1458.1 280.4 1462.1 L280.4 1473.0 Z" fill="#f0920a" stroke="#1c1c1c" stroke-width="4.4" stroke-linecap="butt" stroke-linejoin="round"/>
<line x1="308.9" y1="1469.0" x2="308.9" y2="1450.0" stroke="#1c1c1c" stroke-width="4.5" stroke-linecap="butt"/>
<line x1="298.1" y1="1450.0" x2="319.7" y2="1450.0" stroke="#1c1c1c" stroke-width="4.5" stroke-linecap="butt"/>
<text x="262.2" y="1288.0" font-size="26.8" text-anchor="middle">crRNA</text>
<text x="268.3" y="1557.0" font-size="26.8" text-anchor="middle">tracrRNA</text>
<path d="M361.2 1349.0 H377.4 V1340.8 L393.2 1357.9 L377.4 1375.8 V1366.7 H361.2 Z" fill="#6199cf"/>
<path d="M361.2 1479.5 H377.4 V1471.3 L393.2 1488.4 L377.4 1506.3 V1497.2 H361.2 Z" fill="#6199cf"/>
<path d="M409 1358.1 H481.6" fill="none" stroke="#6b3a93" stroke-width="8" stroke-linecap="butt" stroke-linejoin="miter"/>
<circle cx="409.4" cy="1358.1" r="4" fill="#6b3a93"/>
<line x1="481.6" y1="1358.1" x2="561.4" y2="1358.1" stroke="#ec7d31" stroke-width="8" stroke-linecap="butt"/>
<path d="M561.4 1358.1 H577.1 V1344.5 A14.2 14.2 0 1 1 594.6 1344.5 V1358.1 H614" fill="none" stroke="#c6c6c6" stroke-width="8.2" stroke-linecap="butt" stroke-linejoin="miter"/>
<text x="353.0" y="1251.3" font-size="26.9">Random sequence</text>
<line x1="465.4" y1="1264.9" x2="515.6" y2="1347.1" stroke="#1c1c1c" stroke-width="2.8" stroke-linecap="butt"/>
<text x="415.5" y="1418.9" font-size="26.2">paired</text>
<path d="M523 1379.6 L542.5 1398.8 L533 1398.8 L533 1417.9 L542.5 1417.9 L523 1437.1 L503.6 1417.9 L513.4 1417.9 L513.4 1398.8 L503.6 1398.8 Z" fill="#1e1e1c"/>
<path d="M481.5 1461.2 H443.5 A13.3 13.3 0 0 0 443.5 1487.8 H498.1 A13.6 13.6 0 0 1 498.1 1515 H446 A13.35 13.35 0 0 0 446 1541.7 H473.9" fill="none" stroke="#afabab" stroke-width="9.1" stroke-linecap="butt" stroke-linejoin="miter"/>
<path d="M473.9 1541.7 A10.6 10.6 0 0 1 473.9 1562.9" fill="none" stroke="#6399cb" stroke-width="9.1" stroke-linecap="butt" stroke-linejoin="miter"/>
<line x1="473.9" y1="1562.9" x2="444.4" y2="1562.9" stroke="#afabab" stroke-width="9.1" stroke-linecap="butt"/>
<path d="M444.4 1562.9 A10.55 10.55 0 0 0 444.4 1584" fill="none" stroke="#6399cb" stroke-width="9.1" stroke-linecap="butt" stroke-linejoin="miter"/>
<line x1="444.4" y1="1584.0" x2="472.5" y2="1584.0" stroke="#afabab" stroke-width="9.1" stroke-linecap="butt"/>
<path d="M472.5 1584 A10.85 10.85 0 0 1 472.5 1605.7" fill="none" stroke="#6399cb" stroke-width="9.1" stroke-linecap="butt" stroke-linejoin="miter"/>
<line x1="472.5" y1="1605.7" x2="444.2" y2="1605.7" stroke="#afabab" stroke-width="9.1" stroke-linecap="butt"/>
<path d="M513.1 1456.7 V1463 A10.2 10.2 0 0 0 533.3 1463 V1456.7" fill="none" stroke="#c01f1f" stroke-width="8.6" stroke-linecap="butt" stroke-linejoin="miter"/>
<line x1="481.5" y1="1461.2" x2="508.7" y2="1461.2" stroke="#ec7d31" stroke-width="9.1" stroke-linecap="butt"/>
<line x1="529.3" y1="1461.2" x2="561.6" y2="1461.2" stroke="#ec7d31" stroke-width="9.1" stroke-linecap="butt"/>
<text x="46.3 53.5" y="1655.3" font-size="23.5" fill="#9e9e9e" font-family="'Liberation Sans', Arial, sans-serif">--</text>
<text x="72.1 88.0" y="1655.3" font-size="23.5" fill="#6b3d9c" font-family="'Liberation Sans', Arial, sans-serif">NN</text>
<text x="109.4 129.3" y="1655.3" font-size="23.5" fill="#6b3d9c" font-family="'Liberation Sans', Arial, sans-serif">NN</text>
<text x="148.2 163.8 179.3 194.9 210.5 226.0 241.6 257.2 272.8 288.3 303.9 319.5 335.0 350.6 366.2" y="1655.3" font-size="23.5" fill="#ef8a2e" font-family="'Liberation Sans', Arial, sans-serif">NNNNNNNNNNNNNNN</text>
<text x="409.3" y="1655.3" font-size="23.5" fill="#9e9e9e" font-family="'Liberation Sans', Arial, sans-serif">--</text>
<text x="433.3" y="1655.3" font-size="24.7" fill="#f2a3b3" font-family="'Liberation Sans', Arial, sans-serif">Terminator</text>
<text x="557.0" y="1655.3" font-size="23.5" fill="#9e9e9e" font-family="'Liberation Sans', Arial, sans-serif">--</text>
<text x="581.5" y="1656.3" font-size="23.5" fill="#9e9e9e" font-family="'Liberation Sans', Arial, sans-serif">3′</text>
<text x="120.3 127.5" y="1713.3" font-size="23.5" fill="#9e9e9e" font-family="'Liberation Sans', Arial, sans-serif">--</text>
<text x="150.0" y="1713.3" font-size="23.5" fill="#e3302f" font-family="'Liberation Sans', Arial, sans-serif">U</text>
<text x="165.4 180.5 195.7 210.8 226.0" y="1713.3" font-size="23.5" fill="#ef8a2e" font-family="'Liberation Sans', Arial, sans-serif">NNNNN</text>
<text x="251.5" y="1713.3" font-size="23.5" fill="#e3302f" font-family="'Liberation Sans', Arial, sans-serif">U</text>
<text x="286.2 301.7 317.1 332.6 348.0 363.5 379.0" y="1713.3" font-size="23.5" fill="#ef8a2e" font-family="'Liberation Sans', Arial, sans-serif">NNNNNNN</text>
<text x="409.3" y="1713.3" font-size="23.5" fill="#9e9e9e" font-family="'Liberation Sans', Arial, sans-serif">--</text>
<text x="433.3" y="1714.3" font-size="23.5" fill="#9e9e9e" font-family="'Liberation Sans', Arial, sans-serif">5′</text>
<text x="251.0" y="1737.3" font-size="23.5" fill="#e3302f" font-family="'Liberation Sans', Arial, sans-serif">G</text>
<text x="268.2" y="1750.0" font-size="23.5" fill="#e3302f" font-family="'Liberation Sans', Arial, sans-serif">A</text>
<text x="284.8" y="1737.9" font-size="23.5" fill="#e3302f" font-family="'Liberation Sans', Arial, sans-serif">A</text>
<circle cx="155.1" cy="1676.9" r="3.0" fill="#111"/>
<rect x="169.5" y="1662.5" width="5.8" height="28.8" fill="#111"/>
<rect x="186.8" y="1662.5" width="5.8" height="28.8" fill="#111"/>
<rect x="204.1" y="1662.5" width="5.8" height="28.8" fill="#111"/>
<rect x="221.4" y="1662.5" width="5.8" height="28.8" fill="#111"/>
<rect x="238.7" y="1662.5" width="5.8" height="28.8" fill="#111"/>
<circle cx="258.9" cy="1676.9" r="3.0" fill="#111"/>
<rect x="290.6" y="1662.5" width="5.8" height="28.8" fill="#111"/>
<rect x="307.9" y="1662.5" width="5.8" height="28.8" fill="#111"/>
<rect x="325.2" y="1662.5" width="5.8" height="28.8" fill="#111"/>
<rect x="342.5" y="1662.5" width="5.8" height="28.8" fill="#111"/>
<rect x="359.8" y="1662.5" width="5.8" height="28.8" fill="#bdbdbd"/>
<rect x="377.1" y="1662.5" width="5.8" height="28.8" fill="#bdbdbd"/>
<rect x="394.4" y="1662.5" width="5.8" height="28.8" fill="#bdbdbd"/>
<text x="627.5" y="1222.5" font-size="50" fill="#000">f</text>
<rect x="788.0" y="1272.4" width="398.9" height="398.5" fill="#9c9c9c"/>
<line x1="834.5" y1="1272.4" x2="834.5" y2="1670.9" stroke="#8e8e8e" stroke-width="1.2" stroke-linecap="butt"/>
<line x1="788.0" y1="1318.8" x2="1186.9" y2="1318.8" stroke="#8e8e8e" stroke-width="1.2" stroke-linecap="butt"/>
<line x1="911.2" y1="1272.4" x2="911.2" y2="1670.9" stroke="#8e8e8e" stroke-width="1.2" stroke-linecap="butt"/>
<line x1="788.0" y1="1395.5" x2="1186.9" y2="1395.5" stroke="#8e8e8e" stroke-width="1.2" stroke-linecap="butt"/>
<line x1="987.9" y1="1272.4" x2="987.9" y2="1670.9" stroke="#8e8e8e" stroke-width="1.2" stroke-linecap="butt"/>
<line x1="788.0" y1="1472.2" x2="1186.9" y2="1472.2" stroke="#8e8e8e" stroke-width="1.2" stroke-linecap="butt"/>
<line x1="1064.5" y1="1272.4" x2="1064.5" y2="1670.9" stroke="#8e8e8e" stroke-width="1.2" stroke-linecap="butt"/>
<line x1="788.0" y1="1549.0" x2="1186.9" y2="1549.0" stroke="#8e8e8e" stroke-width="1.2" stroke-linecap="butt"/>
<line x1="1141.2" y1="1272.4" x2="1141.2" y2="1670.9" stroke="#8e8e8e" stroke-width="1.2" stroke-linecap="butt"/>
<line x1="788.0" y1="1625.7" x2="1186.9" y2="1625.7" stroke="#8e8e8e" stroke-width="1.2" stroke-linecap="butt"/>
<rect x="1102.7" y="1280.3" width="77.0" height="77.0" fill="#f7c4ac"/>
<rect x="1026.0" y="1357.0" width="77.0" height="77.0" fill="#f9d9cd"/>
<rect x="1102.7" y="1357.0" width="77.0" height="77.0" fill="#cab9de"/>
<rect x="949.4" y="1433.8" width="77.0" height="77.0" fill="#ffffff"/>
<rect x="1026.0" y="1433.8" width="77.0" height="77.0" fill="#ffffff"/>
<rect x="1102.7" y="1433.8" width="77.0" height="77.0" fill="#ffffff"/>
<rect x="872.7" y="1510.4" width="77.0" height="77.0" fill="#ffffff"/>
<rect x="949.4" y="1510.4" width="77.0" height="77.0" fill="#ffffff"/>
<rect x="1026.0" y="1510.4" width="77.0" height="77.0" fill="#ffffff"/>
<rect x="1102.7" y="1510.4" width="77.0" height="77.0" fill="#ffffff"/>
<rect x="796.1" y="1587.1" width="77.0" height="77.0" fill="#ffffff"/>
<rect x="872.7" y="1587.1" width="77.0" height="77.0" fill="#ffffff"/>
<rect x="949.4" y="1587.1" width="77.0" height="77.0" fill="#9a89c4"/>
<rect x="1026.0" y="1587.1" width="77.0" height="77.0" fill="#9a89c4"/>
<rect x="1102.7" y="1587.1" width="77.0" height="77.0" fill="#ffffff"/>
<rect x="949.8" y="1434.2" width="76.1" height="76.1" fill="none" stroke="#efefef" stroke-width="0.8"/>
<rect x="1026.5" y="1434.2" width="76.1" height="76.1" fill="none" stroke="#efefef" stroke-width="0.8"/>
<rect x="1103.1" y="1434.2" width="76.1" height="76.1" fill="none" stroke="#efefef" stroke-width="0.8"/>
<rect x="873.2" y="1510.9" width="76.1" height="76.1" fill="none" stroke="#efefef" stroke-width="0.8"/>
<rect x="949.8" y="1510.9" width="76.1" height="76.1" fill="none" stroke="#efefef" stroke-width="0.8"/>
<rect x="1026.5" y="1510.9" width="76.1" height="76.1" fill="none" stroke="#efefef" stroke-width="0.8"/>
<rect x="1103.1" y="1510.9" width="76.1" height="76.1" fill="none" stroke="#efefef" stroke-width="0.8"/>
<rect x="796.5" y="1587.6" width="76.1" height="76.1" fill="none" stroke="#efefef" stroke-width="0.8"/>
<rect x="873.2" y="1587.6" width="76.1" height="76.1" fill="none" stroke="#efefef" stroke-width="0.8"/>
<rect x="1103.1" y="1587.6" width="76.1" height="76.1" fill="none" stroke="#efefef" stroke-width="0.8"/>
<text x="1141.7" y="1328.3" font-size="27" text-anchor="middle">0.3</text>
<text x="1065.0" y="1405.0" font-size="27" text-anchor="middle">0.2</text>
<text x="1141.7" y="1405.0" font-size="27" text-anchor="middle">-0.3</text>
<text x="988.4" y="1635.1" font-size="27" text-anchor="middle">-0.5</text>
<text x="1065.0" y="1635.1" font-size="27" text-anchor="middle">-0.5</text>
<line x1="782.6" y1="1318.8" x2="788.0" y2="1318.8" stroke="#1c1c1c" stroke-width="3.0" stroke-linecap="butt"/>
<text x="773.5" y="1325.6" font-size="26.6" text-anchor="end">variable 1</text>
<line x1="782.6" y1="1395.5" x2="788.0" y2="1395.5" stroke="#1c1c1c" stroke-width="3.0" stroke-linecap="butt"/>
<text x="773.5" y="1402.3" font-size="26.6" text-anchor="end">variable 2</text>
<line x1="782.6" y1="1472.2" x2="788.0" y2="1472.2" stroke="#1c1c1c" stroke-width="3.0" stroke-linecap="butt"/>
<text x="773.5" y="1479.0" font-size="26.6" text-anchor="end">variable 3</text>
<line x1="782.6" y1="1549.0" x2="788.0" y2="1549.0" stroke="#1c1c1c" stroke-width="3.0" stroke-linecap="butt"/>
<text x="773.5" y="1555.8" font-size="26.6" text-anchor="end">variable 4</text>
<line x1="782.6" y1="1625.7" x2="788.0" y2="1625.7" stroke="#1c1c1c" stroke-width="3.0" stroke-linecap="butt"/>
<text x="773.5" y="1632.5" font-size="26.6" text-anchor="end">variable 5</text>
<line x1="834.5" y1="1670.9" x2="834.5" y2="1676.7" stroke="#1c1c1c" stroke-width="3.0" stroke-linecap="butt"/>
<text x="841.5" y="1706.5" font-size="27" text-anchor="end" transform="rotate(-45 841.5 1706.5)">variable 4</text>
<line x1="911.2" y1="1670.9" x2="911.2" y2="1676.7" stroke="#1c1c1c" stroke-width="3.0" stroke-linecap="butt"/>
<text x="922.8" y="1707.5" font-size="27" text-anchor="end" transform="rotate(-45 922.8 1707.5)">variable 3</text>
<line x1="987.9" y1="1670.9" x2="987.9" y2="1676.7" stroke="#1c1c1c" stroke-width="3.0" stroke-linecap="butt"/>
<text x="998.4" y="1705.5" font-size="27" text-anchor="end" transform="rotate(-45 998.4 1705.5)">variable 2</text>
<line x1="1064.5" y1="1670.9" x2="1064.5" y2="1676.7" stroke="#1c1c1c" stroke-width="3.0" stroke-linecap="butt"/>
<text x="1072.8" y="1704.5" font-size="27" text-anchor="end" transform="rotate(-45 1072.8 1704.5)">variable 1</text>
<line x1="1141.2" y1="1670.9" x2="1141.2" y2="1676.7" stroke="#1c1c1c" stroke-width="3.0" stroke-linecap="butt"/>
<text x="1159.2" y="1696.0" font-size="27" text-anchor="end" transform="rotate(-45 1159.2 1696.0)">Fluo. (a.u.)</text>
<text x="1198.5" y="1382.9" font-size="26.2">Corr</text>
<defs><linearGradient id="corrg" x1="0" y1="0" x2="0" y2="1"><stop offset="0" stop-color="#e3332a"/><stop offset="0.12" stop-color="#ea5a3e"/><stop offset="0.25" stop-color="#f08a6c"/><stop offset="0.38" stop-color="#f7bea8"/><stop offset="0.5" stop-color="#ffffff"/><stop offset="0.62" stop-color="#d9cce6"/><stop offset="0.75" stop-color="#a493cb"/><stop offset="0.88" stop-color="#6a5fb2"/><stop offset="1.0" stop-color="#3f4fa5"/></linearGradient></defs>
<rect x="1208.5" y="1403.8" width="33.5" height="166.0" fill="url(#corrg)" stroke="#1e1e1e" stroke-width="3.4"/>
<line x1="1210.2" y1="1445.3" x2="1214.9" y2="1445.3" stroke="#1c1c1c" stroke-width="3.0" stroke-linecap="butt"/>
<line x1="1235.6" y1="1445.3" x2="1240.3" y2="1445.3" stroke="#1c1c1c" stroke-width="3.0" stroke-linecap="butt"/>
<line x1="1210.2" y1="1487.2" x2="1214.9" y2="1487.2" stroke="#1c1c1c" stroke-width="3.0" stroke-linecap="butt"/>
<line x1="1235.6" y1="1487.2" x2="1240.3" y2="1487.2" stroke="#1c1c1c" stroke-width="3.0" stroke-linecap="butt"/>
<line x1="1210.2" y1="1528.9" x2="1214.9" y2="1528.9" stroke="#1c1c1c" stroke-width="3.0" stroke-linecap="butt"/>
<line x1="1235.6" y1="1528.9" x2="1240.3" y2="1528.9" stroke="#1c1c1c" stroke-width="3.0" stroke-linecap="butt"/>
<text x="1262.0" y="1414.4" font-size="26.6">1.0</text>
<text x="1262.0" y="1450.7" font-size="26.6">0.5</text>
<text x="1262.0" y="1490.3" font-size="26.6">0.0</text>
<text x="1252.6" y="1534.6" font-size="26.6">-0.5</text>
<text x="1252.6" y="1571.5" font-size="26.6">-1.0</text>
<text x="1288.5" y="1214.0" font-size="50" fill="#000">g</text>
<line x1="1411.2" y1="1303.3" x2="1411.2" y2="1669.9" stroke="#484848" stroke-width="2.7" stroke-linecap="butt"/>
<line x1="1460.6" y1="1303.3" x2="1460.6" y2="1669.9" stroke="#484848" stroke-width="2.7" stroke-linecap="butt"/>
<line x1="1510.1" y1="1303.3" x2="1510.1" y2="1669.9" stroke="#484848" stroke-width="2.7" stroke-linecap="butt"/>
<line x1="1559.5" y1="1303.3" x2="1559.5" y2="1669.9" stroke="#484848" stroke-width="2.7" stroke-linecap="butt"/>
<line x1="1608.9" y1="1303.3" x2="1608.9" y2="1669.9" stroke="#484848" stroke-width="2.7" stroke-linecap="butt"/>
<line x1="1658.4" y1="1303.3" x2="1658.4" y2="1669.9" stroke="#484848" stroke-width="2.7" stroke-linecap="butt"/>
<line x1="1707.8" y1="1303.3" x2="1707.8" y2="1669.9" stroke="#484848" stroke-width="2.7" stroke-linecap="butt"/>
<line x1="1757.2" y1="1303.3" x2="1757.2" y2="1669.9" stroke="#484848" stroke-width="2.7" stroke-linecap="butt"/>
<line x1="1806.7" y1="1303.3" x2="1806.7" y2="1669.9" stroke="#484848" stroke-width="2.7" stroke-linecap="butt"/>
<line x1="1856.1" y1="1303.3" x2="1856.1" y2="1669.9" stroke="#484848" stroke-width="2.7" stroke-linecap="butt"/>
<line x1="1409.9" y1="1304.6" x2="1857.4" y2="1304.6" stroke="#484848" stroke-width="2.7" stroke-linecap="butt"/>
<line x1="1409.9" y1="1345.0" x2="1857.4" y2="1345.0" stroke="#484848" stroke-width="2.7" stroke-linecap="butt"/>
<line x1="1409.9" y1="1385.5" x2="1857.4" y2="1385.5" stroke="#484848" stroke-width="2.7" stroke-linecap="butt"/>
<line x1="1409.9" y1="1425.9" x2="1857.4" y2="1425.9" stroke="#484848" stroke-width="2.7" stroke-linecap="butt"/>
<line x1="1409.9" y1="1466.4" x2="1857.4" y2="1466.4" stroke="#484848" stroke-width="2.7" stroke-linecap="butt"/>
<line x1="1409.9" y1="1506.8" x2="1857.4" y2="1506.8" stroke="#484848" stroke-width="2.7" stroke-linecap="butt"/>
<line x1="1409.9" y1="1547.3" x2="1857.4" y2="1547.3" stroke="#484848" stroke-width="2.7" stroke-linecap="butt"/>
<line x1="1409.9" y1="1587.7" x2="1857.4" y2="1587.7" stroke="#484848" stroke-width="2.7" stroke-linecap="butt"/>
<line x1="1409.9" y1="1628.2" x2="1857.4" y2="1628.2" stroke="#484848" stroke-width="2.7" stroke-linecap="butt"/>
<line x1="1409.9" y1="1668.6" x2="1857.4" y2="1668.6" stroke="#484848" stroke-width="2.7" stroke-linecap="butt"/>
<text x="0" y="0" font-size="26.5" text-anchor="middle" transform="translate(1411.2 1713.8) scale(1 1.09)">-24</text>
<text x="0" y="0" font-size="26.5" text-anchor="middle" transform="translate(1460.6 1713.8) scale(1 1.09)">-22</text>
<text x="0" y="0" font-size="26.5" text-anchor="middle" transform="translate(1510.1 1713.8) scale(1 1.09)">-20</text>
<text x="0" y="0" font-size="26.5" text-anchor="middle" transform="translate(1559.5 1713.8) scale(1 1.09)">-18</text>
<text x="0" y="0" font-size="26.5" text-anchor="middle" transform="translate(1608.9 1713.8) scale(1 1.09)">-16</text>
<text x="0" y="0" font-size="26.5" text-anchor="middle" transform="translate(1658.4 1713.8) scale(1 1.09)">-14</text>
<text x="0" y="0" font-size="26.5" text-anchor="middle" transform="translate(1707.8 1713.8) scale(1 1.09)">-12</text>
<text x="0" y="0" font-size="26.5" text-anchor="middle" transform="translate(1757.2 1713.8) scale(1 1.09)">-10</text>
<text x="0" y="0" font-size="26.5" text-anchor="middle" transform="translate(1806.7 1713.8) scale(1 1.09)">-8</text>
<text x="0" y="0" font-size="26.5" text-anchor="middle" transform="translate(1856.1 1713.8) scale(1 1.09)">-6</text>
<text x="0" y="0" font-size="26.5" text-anchor="end" transform="translate(1402.5 1308.6) scale(1 1.09)">0</text>
<text x="0" y="0" font-size="26.5" text-anchor="end" transform="translate(1402.5 1349.0) scale(1 1.09)">-1</text>
<text x="0" y="0" font-size="26.5" text-anchor="end" transform="translate(1402.5 1389.5) scale(1 1.09)">-2</text>
<text x="0" y="0" font-size="26.5" text-anchor="end" transform="translate(1402.5 1429.9) scale(1 1.09)">-3</text>
<text x="0" y="0" font-size="26.5" text-anchor="end" transform="translate(1402.5 1470.4) scale(1 1.09)">-4</text>
<text x="0" y="0" font-size="26.5" text-anchor="end" transform="translate(1402.5 1510.8) scale(1 1.09)">-5</text>
<text x="0" y="0" font-size="26.5" text-anchor="end" transform="translate(1402.5 1551.3) scale(1 1.09)">-6</text>
<text x="0" y="0" font-size="26.5" text-anchor="end" transform="translate(1402.5 1591.8) scale(1 1.09)">-7</text>
<text x="0" y="0" font-size="26.5" text-anchor="end" transform="translate(1402.5 1632.2) scale(1 1.09)">-8</text>
<text x="0" y="0" font-size="26.5" text-anchor="end" transform="translate(1402.5 1672.6) scale(1 1.09)">-9</text>
<text x="1656.6" y="1757.5" font-size="26.5" text-anchor="middle">variable 2</text>
<text x="1355.3" y="1463.4" font-size="26.5" text-anchor="middle" transform="rotate(-90 1355.3 1463.4)">variable 1</text>
<circle cx="1440.3" cy="1370.6" r="4.5" fill="#2fb08a"/>
<circle cx="1529.3" cy="1348.6" r="4.5" fill="#7fbf6a"/>
<circle cx="1562.3" cy="1355.9" r="4.5" fill="#36b28e"/>
<circle cx="1534.7" cy="1371.8" r="4.5" fill="#b5b85a"/>
<circle cx="1590.0" cy="1342.9" r="4.5" fill="#e8b040"/>
<circle cx="1555.1" cy="1390.0" r="4.5" fill="#f2c830"/>
<circle cx="1539.5" cy="1394.6" r="4.5" fill="#a5b85a"/>
<circle cx="1578.2" cy="1402.8" r="4.5" fill="#ecd327"/>
<circle cx="1586.4" cy="1416.6" r="4.5" fill="#3a55aa"/>
<circle cx="1608.6" cy="1419.5" r="4.5" fill="#23aaaa"/>
<circle cx="1620.3" cy="1416.6" r="4.5" fill="#4db890"/>
<circle cx="1622.2" cy="1424.1" r="4.5" fill="#3f3ba0"/>
<circle cx="1523.8" cy="1418.4" r="4.5" fill="#7dbb75"/>
<circle cx="1525.6" cy="1419.6" r="4.5" fill="#a8b860"/>
<circle cx="1558.7" cy="1422.9" r="4.5" fill="#40b595"/>
<circle cx="1568.9" cy="1422.9" r="4.5" fill="#f2b43c"/>
<circle cx="1539.5" cy="1431.3" r="4.5" fill="#e0ab45"/>
<circle cx="1506.4" cy="1437.9" r="4.5" fill="#55b880"/>
<circle cx="1534.1" cy="1438.8" r="4.5" fill="#55b880"/>
<circle cx="1489.9" cy="1449.9" r="4.5" fill="#f2b03c"/>
<circle cx="1548.7" cy="1452.6" r="4.5" fill="#22a5a0"/>
<circle cx="1604.2" cy="1441.5" r="4.5" fill="#2e90d0"/>
<circle cx="1599.0" cy="1442.7" r="4.5" fill="#ecd030"/>
<circle cx="1629.6" cy="1441.3" r="4.5" fill="#55b880"/>
<circle cx="1621.2" cy="1446.3" r="4.5" fill="#5ab885"/>
<circle cx="1626.0" cy="1451.1" r="4.5" fill="#5ab885"/>
<circle cx="1594.8" cy="1455.3" r="4.5" fill="#8fbb66"/>
<circle cx="1612.2" cy="1463.5" r="4.5" fill="#5ab885"/>
<circle cx="1554.5" cy="1466.1" r="4.5" fill="#55b880"/>
<circle cx="1561.7" cy="1474.6" r="4.5" fill="#f2b43c"/>
<circle cx="1629.6" cy="1471.0" r="4.5" fill="#2090d0"/>
<circle cx="1627.0" cy="1469.2" r="4.5" fill="#d4b550"/>
<circle cx="1632.0" cy="1392.0" r="4.5" fill="#20a5b5"/>
<circle cx="1630.3" cy="1403.6" r="4.5" fill="#b8b455"/>
<circle cx="1631.4" cy="1410.2" r="4.5" fill="#e8e030"/>
<circle cx="1631.4" cy="1377.8" r="4.5" fill="#e0b040"/>
<circle cx="1627.8" cy="1379.6" r="4.5" fill="#b0bb60"/>
<circle cx="1689.5" cy="1324.7" r="4.5" fill="#5cba88"/>
<circle cx="1737.4" cy="1332.2" r="4.5" fill="#3d2f90"/>
<circle cx="1707.3" cy="1348.6" r="4.5" fill="#1f9bd0"/>
<circle cx="1757.5" cy="1347.6" r="4.5" fill="#f2b53e"/>
<circle cx="1842.3" cy="1348.6" r="4.5" fill="#42309a"/>
<circle cx="1733.7" cy="1354.1" r="4.5" fill="#2e6cbb"/>
<circle cx="1729.0" cy="1362.4" r="4.5" fill="#3556aa"/>
<circle cx="1656.3" cy="1369.8" r="4.5" fill="#7cbb75"/>
<circle cx="1695.2" cy="1379.8" r="4.5" fill="#3db296"/>
<circle cx="1719.0" cy="1381.8" r="4.5" fill="#433a9e"/>
<circle cx="1652.8" cy="1395.2" r="4.5" fill="#25b0a5"/>
<circle cx="1654.4" cy="1391.7" r="4.5" fill="#eeb040"/>
<circle cx="1705.2" cy="1394.6" r="4.5" fill="#f2b440"/>
<circle cx="1700.4" cy="1403.0" r="4.5" fill="#f2b440"/>
<circle cx="1781.6" cy="1393.7" r="4.5" fill="#2e78c0"/>
<circle cx="1854.2" cy="1401.2" r="4.5" fill="#3f2f94"/>
<circle cx="1648.2" cy="1410.5" r="4.5" fill="#4db890"/>
<circle cx="1659.2" cy="1411.2" r="4.5" fill="#80bb70"/>
<circle cx="1708.0" cy="1421.3" r="4.5" fill="#22aab0"/>
<circle cx="1646.3" cy="1471.0" r="4.5" fill="#3f3296"/>
<circle cx="1676.7" cy="1472.2" r="4.5" fill="#f0d030"/>
<circle cx="1676.7" cy="1469.1" r="4.5" fill="#e0b050"/>
<circle cx="1717.7" cy="1481.3" r="4.5" fill="#f0b040"/>
<circle cx="1720.8" cy="1480.3" r="4.5" fill="#3a48a8"/>
<circle cx="1547.8" cy="1488.6" r="4.5" fill="#90bb66"/>
<circle cx="1546.5" cy="1486.5" r="4.5" fill="#d8b048"/>
<circle cx="1590.9" cy="1485.0" r="4.5" fill="#ecc830"/>
<circle cx="1550.5" cy="1505.2" r="4.5" fill="#2f66b8"/>
<circle cx="1569.0" cy="1502.5" r="4.5" fill="#a8b860"/>
<circle cx="1565.4" cy="1509.0" r="4.5" fill="#25aaa0"/>
<circle cx="1590.2" cy="1516.0" r="4.5" fill="#3a4aa8"/>
<circle cx="1596.6" cy="1526.5" r="4.5" fill="#3c45a5"/>
<circle cx="1614.9" cy="1516.3" r="4.5" fill="#20a0c0"/>
<circle cx="1532.1" cy="1524.4" r="4.5" fill="#2f66b8"/>
<circle cx="1613.3" cy="1530.8" r="4.5" fill="#d0b450"/>
<circle cx="1613.3" cy="1546.6" r="4.5" fill="#40319a"/>
<circle cx="1426.5" cy="1574.3" r="4.5" fill="#8fbf65"/>
<circle cx="1611.5" cy="1574.3" r="4.5" fill="#20aab5"/>
<circle cx="1634.2" cy="1581.7" r="4.5" fill="#b3bb60"/>
<circle cx="1608.7" cy="1586.0" r="4.5" fill="#3d3597"/>
<circle cx="1516.6" cy="1600.0" r="4.5" fill="#3356b0"/>
<circle cx="1569.7" cy="1641.3" r="4.5" fill="#55b880"/>
<circle cx="1439.2" cy="1657.0" r="4.5" fill="#2085c8"/>
<circle cx="1593.0" cy="1665.4" r="4.5" fill="#3f3ea0"/>
<circle cx="1635.2" cy="1655.2" r="4.5" fill="#40309a"/>
<circle cx="1652.8" cy="1499.8" r="4.5" fill="#6cbb7a"/>
<circle cx="1667.6" cy="1517.2" r="4.5" fill="#30b295"/>
<circle cx="1643.5" cy="1521.0" r="4.5" fill="#b0b860"/>
<circle cx="1719.0" cy="1526.4" r="4.5" fill="#2e6cbb"/>
<circle cx="1644.7" cy="1543.7" r="4.5" fill="#2c78c3"/>
<circle cx="1745.9" cy="1543.7" r="4.5" fill="#3f3098"/>
<circle cx="1715.4" cy="1592.5" r="4.5" fill="#70bb75"/>
<circle cx="1708.0" cy="1628.5" r="4.5" fill="#40349a"/>
<defs><linearGradient id="parg" x1="0" y1="0" x2="0" y2="1"><stop offset="0.00" stop-color="#ede12d"/><stop offset="0.10" stop-color="#f1bd3d"/><stop offset="0.20" stop-color="#c9b65a"/><stop offset="0.30" stop-color="#8dbb70"/><stop offset="0.40" stop-color="#4bb891"/><stop offset="0.50" stop-color="#24aeae"/><stop offset="0.60" stop-color="#1b9cc6"/><stop offset="0.70" stop-color="#2282cc"/><stop offset="0.80" stop-color="#2c63c0"/><stop offset="0.90" stop-color="#3742a8"/><stop offset="1.00" stop-color="#3e2b8f"/></linearGradient></defs>
<rect x="1869.8" y="1304.8" width="18.3" height="363.2" fill="url(#parg)" stroke="#484848" stroke-width="3.4"/>
<line x1="1884.1" y1="1343.2" x2="1888.0" y2="1343.2" stroke="#484848" stroke-width="2.6" stroke-linecap="butt"/>
<line x1="1884.1" y1="1380.2" x2="1888.0" y2="1380.2" stroke="#484848" stroke-width="2.6" stroke-linecap="butt"/>
<line x1="1884.1" y1="1417.3" x2="1888.0" y2="1417.3" stroke="#484848" stroke-width="2.6" stroke-linecap="butt"/>
<line x1="1884.1" y1="1454.4" x2="1888.0" y2="1454.4" stroke="#484848" stroke-width="2.6" stroke-linecap="butt"/>
<line x1="1884.1" y1="1491.4" x2="1888.0" y2="1491.4" stroke="#484848" stroke-width="2.6" stroke-linecap="butt"/>
<line x1="1884.1" y1="1528.5" x2="1888.0" y2="1528.5" stroke="#484848" stroke-width="2.6" stroke-linecap="butt"/>
<line x1="1884.1" y1="1565.5" x2="1888.0" y2="1565.5" stroke="#484848" stroke-width="2.6" stroke-linecap="butt"/>
<line x1="1884.1" y1="1602.5" x2="1888.0" y2="1602.5" stroke="#484848" stroke-width="2.6" stroke-linecap="butt"/>
<line x1="1884.1" y1="1639.6" x2="1888.0" y2="1639.6" stroke="#484848" stroke-width="2.6" stroke-linecap="butt"/>
<text x="0" y="0" font-size="26.5" transform="translate(1899.5 1318.8) scale(1 1.09)">5</text>
<text x="0" y="0" font-size="26.5" transform="translate(1899.5 1355.8) scale(1 1.09)">4.5</text>
<text x="0" y="0" font-size="26.5" transform="translate(1899.5 1392.9) scale(1 1.09)">4</text>
<text x="0" y="0" font-size="26.5" transform="translate(1899.5 1430.0) scale(1 1.09)">3.5</text>
<text x="0" y="0" font-size="26.5" transform="translate(1899.5 1467.0) scale(1 1.09)">3</text>
<text x="0" y="0" font-size="26.5" transform="translate(1899.5 1504.0) scale(1 1.09)">2.5</text>
<text x="0" y="0" font-size="26.5" transform="translate(1899.5 1541.1) scale(1 1.09)">2</text>
<text x="0" y="0" font-size="26.5" transform="translate(1899.5 1578.1) scale(1 1.09)">1.5</text>
<text x="0" y="0" font-size="26.5" transform="translate(1899.5 1615.2) scale(1 1.09)">1</text>
<text x="0" y="0" font-size="26.5" transform="translate(1899.5 1652.2) scale(1 1.09)">0.5</text>
<text x="1900.5" y="1279.0" font-size="26.5">x10</text>
<text x="1944.3" y="1265.5" font-size="19">4</text>
<text x="1990.2" y="1296.0" font-size="26.5" text-anchor="end" transform="rotate(-90 1990.2 1296.0)">Fluorescence / <tspan font-style="italic">A</tspan><tspan font-style="italic" font-size="18.6">600</tspan> (a.u.)</text>
</svg>
</body></html>
